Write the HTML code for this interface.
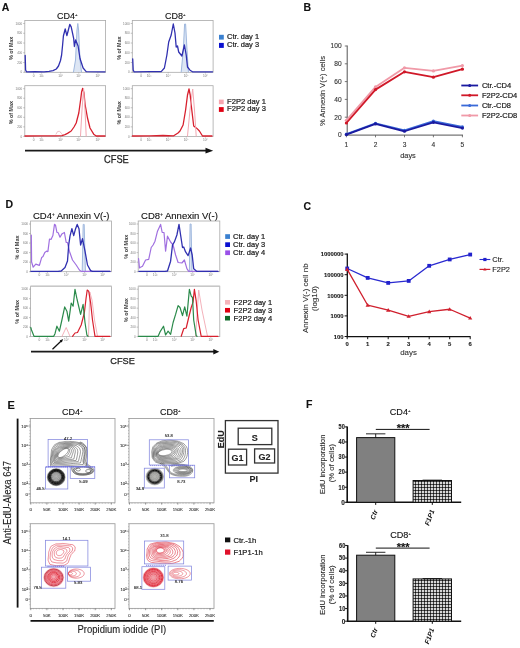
<!DOCTYPE html>
<html><head><meta charset="utf-8"><style>
html,body{margin:0;padding:0;background:#fff;width:520px;height:648px;overflow:hidden}
svg{display:block;will-change:transform}
svg text{font-family:"Liberation Sans", sans-serif}
</style></head><body>
<svg width="520" height="648" viewBox="0 0 520 648">
<defs>
<pattern id="chk" width="3" height="3" patternUnits="userSpaceOnUse">
<rect width="3" height="3" fill="#f4f4f4"/>
<polygon points="1.5,0 3,1.5 1.5,3 0,1.5" fill="#111"/>
</pattern>
<radialGradient id="blk" cx="50%" cy="50%" r="50%">
<stop offset="0" stop-color="#d8d8d8"/>
<stop offset="0.35" stop-color="#b0b0b0"/>
<stop offset="0.55" stop-color="#202020"/>
<stop offset="0.8" stop-color="#111"/>
<stop offset="1" stop-color="#bbb"/>
</radialGradient>
<radialGradient id="redb" cx="47%" cy="47%" r="52%">
<stop offset="0" stop-color="#f4a8b0"/>
<stop offset="0.2" stop-color="#ec7682"/>
<stop offset="0.4" stop-color="#e23444"/>
<stop offset="0.7" stop-color="#e0283a"/>
<stop offset="0.85" stop-color="#e65a68"/>
<stop offset="1" stop-color="#fadadd"/>
</radialGradient>
<radialGradient id="blk4" cx="50%" cy="45%" r="52%">
<stop offset="0" stop-color="#b8b8b8"/>
<stop offset="0.5" stop-color="#a0a0a0"/>
<stop offset="0.6" stop-color="#3a3a3a"/>
<stop offset="0.7" stop-color="#0c0c0c"/>
<stop offset="0.85" stop-color="#1a1a1a"/>
<stop offset="0.95" stop-color="#777"/>
<stop offset="1" stop-color="#c8c8c8"/>
</radialGradient>
<radialGradient id="blk8" cx="50%" cy="50%" r="50%">
<stop offset="0" stop-color="#c8c8c0"/>
<stop offset="0.45" stop-color="#a8a8a8"/>
<stop offset="0.55" stop-color="#2a2a2a"/>
<stop offset="0.62" stop-color="#080808"/>
<stop offset="0.78" stop-color="#101010"/>
<stop offset="0.88" stop-color="#707070"/>
<stop offset="1" stop-color="#d0d0d0"/>
</radialGradient>
</defs>
<rect x="0.00" y="0.00" width="520.00" height="648.00" fill="#fff" stroke="none" stroke-width="1" />
<text x="1.80" y="11.20" font-size="10.5" text-anchor="start" font-weight="bold" fill="#111"  stroke="#111" stroke-width="0.12">A</text>
<text x="57.00" y="18.70" font-size="9" text-anchor="start" font-weight="normal" fill="#111"  stroke="#111" stroke-width="0.12">CD4<tspan font-size="4.32" dy="-2.97">+</tspan></text>
<text x="165.00" y="18.70" font-size="9" text-anchor="start" font-weight="normal" fill="#111"  stroke="#111" stroke-width="0.12">CD8<tspan font-size="4.32" dy="-2.97">+</tspan></text>
<rect x="24.80" y="20.50" width="80.80" height="51.80" fill="none" stroke="#a9a9a9" stroke-width="0.8" />
<line x1="23.20" y1="23.50" x2="24.80" y2="23.50" stroke="#999" stroke-width="0.6" />
<text x="22.20" y="24.60" font-size="3" text-anchor="end" font-weight="normal" fill="#777" >1000</text>
<line x1="23.20" y1="33.26" x2="24.80" y2="33.26" stroke="#999" stroke-width="0.6" />
<text x="22.20" y="34.36" font-size="3" text-anchor="end" font-weight="normal" fill="#777" >800</text>
<line x1="23.20" y1="43.02" x2="24.80" y2="43.02" stroke="#999" stroke-width="0.6" />
<text x="22.20" y="44.12" font-size="3" text-anchor="end" font-weight="normal" fill="#777" >600</text>
<line x1="23.20" y1="52.78" x2="24.80" y2="52.78" stroke="#999" stroke-width="0.6" />
<text x="22.20" y="53.88" font-size="3" text-anchor="end" font-weight="normal" fill="#777" >400</text>
<line x1="23.20" y1="62.54" x2="24.80" y2="62.54" stroke="#999" stroke-width="0.6" />
<text x="22.20" y="63.64" font-size="3" text-anchor="end" font-weight="normal" fill="#777" >200</text>
<line x1="23.20" y1="72.30" x2="24.80" y2="72.30" stroke="#999" stroke-width="0.6" />
<text x="22.20" y="73.40" font-size="3" text-anchor="end" font-weight="normal" fill="#777" >0</text>
<line x1="33.53" y1="72.30" x2="33.53" y2="73.60" stroke="#999" stroke-width="0.5" />
<text x="33.53" y="76.90" font-size="3.2" text-anchor="middle" font-weight="normal" fill="#777" >0</text>
<line x1="41.61" y1="72.30" x2="41.61" y2="73.60" stroke="#999" stroke-width="0.5" />
<text x="41.61" y="76.90" font-size="3.2" text-anchor="middle" font-weight="normal" fill="#777" >10³</text>
<line x1="60.68" y1="72.30" x2="60.68" y2="73.60" stroke="#999" stroke-width="0.5" />
<text x="60.68" y="76.90" font-size="3.2" text-anchor="middle" font-weight="normal" fill="#777" >10⁴</text>
<line x1="78.77" y1="72.30" x2="78.77" y2="73.60" stroke="#999" stroke-width="0.5" />
<text x="78.77" y="76.90" font-size="3.2" text-anchor="middle" font-weight="normal" fill="#777" >10⁵</text>
<line x1="97.92" y1="72.30" x2="97.92" y2="73.60" stroke="#999" stroke-width="0.5" />
<text x="97.92" y="76.90" font-size="3.2" text-anchor="middle" font-weight="normal" fill="#777" >10⁶</text>
<rect x="24.80" y="85.70" width="80.80" height="50.70" fill="none" stroke="#a9a9a9" stroke-width="0.8" />
<line x1="23.20" y1="88.70" x2="24.80" y2="88.70" stroke="#999" stroke-width="0.6" />
<text x="22.20" y="89.80" font-size="3" text-anchor="end" font-weight="normal" fill="#777" >1000</text>
<line x1="23.20" y1="98.24" x2="24.80" y2="98.24" stroke="#999" stroke-width="0.6" />
<text x="22.20" y="99.34" font-size="3" text-anchor="end" font-weight="normal" fill="#777" >800</text>
<line x1="23.20" y1="107.78" x2="24.80" y2="107.78" stroke="#999" stroke-width="0.6" />
<text x="22.20" y="108.88" font-size="3" text-anchor="end" font-weight="normal" fill="#777" >600</text>
<line x1="23.20" y1="117.32" x2="24.80" y2="117.32" stroke="#999" stroke-width="0.6" />
<text x="22.20" y="118.42" font-size="3" text-anchor="end" font-weight="normal" fill="#777" >400</text>
<line x1="23.20" y1="126.86" x2="24.80" y2="126.86" stroke="#999" stroke-width="0.6" />
<text x="22.20" y="127.96" font-size="3" text-anchor="end" font-weight="normal" fill="#777" >200</text>
<line x1="23.20" y1="136.40" x2="24.80" y2="136.40" stroke="#999" stroke-width="0.6" />
<text x="22.20" y="137.50" font-size="3" text-anchor="end" font-weight="normal" fill="#777" >0</text>
<line x1="33.53" y1="136.40" x2="33.53" y2="137.70" stroke="#999" stroke-width="0.5" />
<text x="33.53" y="141.00" font-size="3.2" text-anchor="middle" font-weight="normal" fill="#777" >0</text>
<line x1="41.61" y1="136.40" x2="41.61" y2="137.70" stroke="#999" stroke-width="0.5" />
<text x="41.61" y="141.00" font-size="3.2" text-anchor="middle" font-weight="normal" fill="#777" >10³</text>
<line x1="60.68" y1="136.40" x2="60.68" y2="137.70" stroke="#999" stroke-width="0.5" />
<text x="60.68" y="141.00" font-size="3.2" text-anchor="middle" font-weight="normal" fill="#777" >10⁴</text>
<line x1="78.77" y1="136.40" x2="78.77" y2="137.70" stroke="#999" stroke-width="0.5" />
<text x="78.77" y="141.00" font-size="3.2" text-anchor="middle" font-weight="normal" fill="#777" >10⁵</text>
<line x1="97.92" y1="136.40" x2="97.92" y2="137.70" stroke="#999" stroke-width="0.5" />
<text x="97.92" y="141.00" font-size="3.2" text-anchor="middle" font-weight="normal" fill="#777" >10⁶</text>
<rect x="132.30" y="20.50" width="80.80" height="51.80" fill="none" stroke="#a9a9a9" stroke-width="0.8" />
<line x1="130.70" y1="23.50" x2="132.30" y2="23.50" stroke="#999" stroke-width="0.6" />
<text x="129.70" y="24.60" font-size="3" text-anchor="end" font-weight="normal" fill="#777" >1000</text>
<line x1="130.70" y1="33.26" x2="132.30" y2="33.26" stroke="#999" stroke-width="0.6" />
<text x="129.70" y="34.36" font-size="3" text-anchor="end" font-weight="normal" fill="#777" >800</text>
<line x1="130.70" y1="43.02" x2="132.30" y2="43.02" stroke="#999" stroke-width="0.6" />
<text x="129.70" y="44.12" font-size="3" text-anchor="end" font-weight="normal" fill="#777" >600</text>
<line x1="130.70" y1="52.78" x2="132.30" y2="52.78" stroke="#999" stroke-width="0.6" />
<text x="129.70" y="53.88" font-size="3" text-anchor="end" font-weight="normal" fill="#777" >400</text>
<line x1="130.70" y1="62.54" x2="132.30" y2="62.54" stroke="#999" stroke-width="0.6" />
<text x="129.70" y="63.64" font-size="3" text-anchor="end" font-weight="normal" fill="#777" >200</text>
<line x1="130.70" y1="72.30" x2="132.30" y2="72.30" stroke="#999" stroke-width="0.6" />
<text x="129.70" y="73.40" font-size="3" text-anchor="end" font-weight="normal" fill="#777" >0</text>
<line x1="141.03" y1="72.30" x2="141.03" y2="73.60" stroke="#999" stroke-width="0.5" />
<text x="141.03" y="76.90" font-size="3.2" text-anchor="middle" font-weight="normal" fill="#777" >0</text>
<line x1="149.11" y1="72.30" x2="149.11" y2="73.60" stroke="#999" stroke-width="0.5" />
<text x="149.11" y="76.90" font-size="3.2" text-anchor="middle" font-weight="normal" fill="#777" >10³</text>
<line x1="168.18" y1="72.30" x2="168.18" y2="73.60" stroke="#999" stroke-width="0.5" />
<text x="168.18" y="76.90" font-size="3.2" text-anchor="middle" font-weight="normal" fill="#777" >10⁴</text>
<line x1="186.27" y1="72.30" x2="186.27" y2="73.60" stroke="#999" stroke-width="0.5" />
<text x="186.27" y="76.90" font-size="3.2" text-anchor="middle" font-weight="normal" fill="#777" >10⁵</text>
<line x1="205.42" y1="72.30" x2="205.42" y2="73.60" stroke="#999" stroke-width="0.5" />
<text x="205.42" y="76.90" font-size="3.2" text-anchor="middle" font-weight="normal" fill="#777" >10⁶</text>
<rect x="132.30" y="85.70" width="80.80" height="50.70" fill="none" stroke="#a9a9a9" stroke-width="0.8" />
<line x1="130.70" y1="88.70" x2="132.30" y2="88.70" stroke="#999" stroke-width="0.6" />
<text x="129.70" y="89.80" font-size="3" text-anchor="end" font-weight="normal" fill="#777" >1000</text>
<line x1="130.70" y1="98.24" x2="132.30" y2="98.24" stroke="#999" stroke-width="0.6" />
<text x="129.70" y="99.34" font-size="3" text-anchor="end" font-weight="normal" fill="#777" >800</text>
<line x1="130.70" y1="107.78" x2="132.30" y2="107.78" stroke="#999" stroke-width="0.6" />
<text x="129.70" y="108.88" font-size="3" text-anchor="end" font-weight="normal" fill="#777" >600</text>
<line x1="130.70" y1="117.32" x2="132.30" y2="117.32" stroke="#999" stroke-width="0.6" />
<text x="129.70" y="118.42" font-size="3" text-anchor="end" font-weight="normal" fill="#777" >400</text>
<line x1="130.70" y1="126.86" x2="132.30" y2="126.86" stroke="#999" stroke-width="0.6" />
<text x="129.70" y="127.96" font-size="3" text-anchor="end" font-weight="normal" fill="#777" >200</text>
<line x1="130.70" y1="136.40" x2="132.30" y2="136.40" stroke="#999" stroke-width="0.6" />
<text x="129.70" y="137.50" font-size="3" text-anchor="end" font-weight="normal" fill="#777" >0</text>
<line x1="141.03" y1="136.40" x2="141.03" y2="137.70" stroke="#999" stroke-width="0.5" />
<text x="141.03" y="141.00" font-size="3.2" text-anchor="middle" font-weight="normal" fill="#777" >0</text>
<line x1="149.11" y1="136.40" x2="149.11" y2="137.70" stroke="#999" stroke-width="0.5" />
<text x="149.11" y="141.00" font-size="3.2" text-anchor="middle" font-weight="normal" fill="#777" >10³</text>
<line x1="168.18" y1="136.40" x2="168.18" y2="137.70" stroke="#999" stroke-width="0.5" />
<text x="168.18" y="141.00" font-size="3.2" text-anchor="middle" font-weight="normal" fill="#777" >10⁴</text>
<line x1="186.27" y1="136.40" x2="186.27" y2="137.70" stroke="#999" stroke-width="0.5" />
<text x="186.27" y="141.00" font-size="3.2" text-anchor="middle" font-weight="normal" fill="#777" >10⁵</text>
<line x1="205.42" y1="136.40" x2="205.42" y2="137.70" stroke="#999" stroke-width="0.5" />
<text x="205.42" y="141.00" font-size="3.2" text-anchor="middle" font-weight="normal" fill="#777" >10⁶</text>
<text x="0" y="0" font-size="6.0" text-anchor="middle" dominant-baseline="central" font-weight="bold" fill="#404040"  textLength="23.3" lengthAdjust="spacingAndGlyphs" transform="translate(10.80,48.30) rotate(-90)">% of Max</text>
<text x="0" y="0" font-size="6.0" text-anchor="middle" dominant-baseline="central" font-weight="bold" fill="#404040"  textLength="23.3" lengthAdjust="spacingAndGlyphs" transform="translate(119.30,48.20) rotate(-90)">% of Max</text>
<text x="0" y="0" font-size="6.0" text-anchor="middle" dominant-baseline="central" font-weight="bold" fill="#404040"  textLength="23.3" lengthAdjust="spacingAndGlyphs" transform="translate(10.90,112.60) rotate(-90)">% of Max</text>
<text x="0" y="0" font-size="6.0" text-anchor="middle" dominant-baseline="central" font-weight="bold" fill="#404040"  textLength="23.3" lengthAdjust="spacingAndGlyphs" transform="translate(119.10,112.80) rotate(-90)">% of Max</text>
<polygon points="73.5,72 75.5,60 77,30 77.8,23.5 78.6,30 80,60 81.5,72" fill="#dde6f4"/>
<polyline points="73.50,72.00 75.50,60.00 77.00,30.00 77.80,23.50 78.60,30.00 80.00,60.00 81.50,72.00" fill="none" stroke="#9fb8de" stroke-width="1.0" stroke-linejoin="round" stroke-linecap="round" opacity="1" />
<polyline points="25.20,55.50 25.60,70.00 26.50,71.80 35.00,71.60 44.00,71.80 49.00,71.40 53.00,70.60 56.30,69.00 58.50,66.00 60.50,60.50 61.60,55.00 62.60,45.00 63.40,36.00 65.20,29.00 66.90,35.60 68.10,31.00 69.80,24.40 71.20,26.90 73.70,38.70 74.40,46.50 75.60,40.00 78.10,46.00 80.00,58.50 83.10,68.00 86.20,71.60 105.00,71.80" fill="none" stroke="#3030b0" stroke-width="1.3" stroke-linejoin="round" stroke-linecap="round" opacity="1" />
<polyline points="56.00,134.20 57.50,131.60 59.50,131.20 61.50,133.50 63.00,135.80" fill="none" stroke="#e8b4bc" stroke-width="0.8" stroke-linejoin="round" stroke-linecap="round" opacity="1" />
<polyline points="25.00,136.00 40.00,135.90 55.00,135.90 62.00,135.60 65.00,134.60 67.50,133.40 71.20,131.00 74.00,127.00 76.20,123.00 78.80,113.00 80.60,100.00 81.60,92.00 82.70,88.30 84.00,93.00 85.00,104.00 87.50,118.00 90.00,128.00 93.70,134.20 96.20,136.00 105.00,136.00" fill="none" stroke="#d8202e" stroke-width="1.3" stroke-linejoin="round" stroke-linecap="round" opacity="1" />
<polyline points="80.50,136.00 82.00,110.00 83.60,88.50 85.00,110.00 86.20,136.00" fill="none" stroke="#f2a8b2" stroke-width="1.0" stroke-linejoin="round" stroke-linecap="round" opacity="1" />
<polygon points="181.2,72 183.3,50 184.6,24 185.6,24 187,50 188.4,72" fill="#dde6f4"/>
<polyline points="181.20,72.00 183.30,50.00 184.60,24.00 185.60,24.00 187.00,50.00 188.40,72.00" fill="none" stroke="#9fb8de" stroke-width="1.0" stroke-linejoin="round" stroke-linecap="round" opacity="1" />
<polyline points="132.70,58.80 133.20,70.00 134.00,71.80 150.00,71.60 161.20,71.60 164.40,68.00 166.90,55.00 168.70,42.00 171.20,35.00 173.30,24.00 175.00,33.00 176.20,47.00 177.50,46.00 178.70,52.00 181.90,56.00 184.40,45.00 186.20,55.00 187.50,67.00 190.00,70.20 192.50,71.80 212.50,71.80" fill="none" stroke="#3030b0" stroke-width="1.3" stroke-linejoin="round" stroke-linecap="round" opacity="1" />
<polyline points="132.50,136.00 150.00,135.80 163.00,135.50 173.70,135.80 178.00,133.00 180.00,131.00 183.10,125.00 185.60,110.00 187.50,95.00 189.00,89.00 190.20,95.00 191.20,105.00 193.70,126.00 196.90,128.40 199.40,131.00 202.50,136.00 212.00,136.00" fill="none" stroke="#d8202e" stroke-width="1.3" stroke-linejoin="round" stroke-linecap="round" opacity="1" />
<polyline points="187.50,136.00 190.00,110.00 192.70,89.00 194.50,110.00 196.20,136.00" fill="none" stroke="#f2a8b2" stroke-width="1.0" stroke-linejoin="round" stroke-linecap="round" opacity="1" />
<rect x="219.00" y="34.80" width="4.80" height="4.80" fill="#3a80d0" stroke="none" stroke-width="1" />
<rect x="219.00" y="42.90" width="4.80" height="5.00" fill="#0a10d0" stroke="none" stroke-width="1" />
<text x="227.10" y="39.30" font-size="7.4" text-anchor="start" font-weight="normal" fill="#222"  textLength="32" lengthAdjust="spacingAndGlyphs" stroke="#222" stroke-width="0.22">Ctr. day 1</text>
<text x="227.10" y="47.30" font-size="7.4" text-anchor="start" font-weight="normal" fill="#222"  textLength="32" lengthAdjust="spacingAndGlyphs" stroke="#222" stroke-width="0.22">Ctr. day 3</text>
<rect x="218.90" y="99.60" width="4.80" height="4.60" fill="#f7a6b0" stroke="none" stroke-width="1" />
<rect x="218.90" y="107.10" width="4.80" height="4.80" fill="#e00012" stroke="none" stroke-width="1" />
<text x="227.10" y="103.70" font-size="7.6" text-anchor="start" font-weight="normal" fill="#222"  stroke="#222" stroke-width="0.22">F2P2 day 1</text>
<text x="227.10" y="111.30" font-size="7.6" text-anchor="start" font-weight="normal" fill="#222"  stroke="#222" stroke-width="0.22">F2P2 day 3</text>
<line x1="25.00" y1="150.70" x2="206.50" y2="150.70" stroke="#1a1a1a" stroke-width="1.7" />
<polygon points="205.5,147.8 213.2,150.7 205.5,153.6" fill="#111"/>
<text x="104.00" y="162.70" font-size="10.2" text-anchor="start" font-weight="normal" fill="#222"  textLength="24.8" lengthAdjust="spacingAndGlyphs" stroke="#222" stroke-width="0.25">CFSE</text>
<text x="303.60" y="11.20" font-size="10.5" text-anchor="start" font-weight="bold" fill="#111"  stroke="#111" stroke-width="0.12">B</text>
<line x1="347.20" y1="45.50" x2="347.20" y2="135.60" stroke="#555" stroke-width="1.0" />
<line x1="346.70" y1="135.10" x2="463.00" y2="135.10" stroke="#555" stroke-width="1.0" />
<line x1="344.80" y1="135.00" x2="347.20" y2="135.00" stroke="#555" stroke-width="0.8" />
<text x="341.60" y="137.30" font-size="6.6" text-anchor="end" font-weight="normal" fill="#333"  stroke="#333" stroke-width="0.12">0</text>
<line x1="344.80" y1="117.20" x2="347.20" y2="117.20" stroke="#555" stroke-width="0.8" />
<text x="341.60" y="119.50" font-size="6.6" text-anchor="end" font-weight="normal" fill="#333"  stroke="#333" stroke-width="0.12">20</text>
<line x1="344.80" y1="99.40" x2="347.20" y2="99.40" stroke="#555" stroke-width="0.8" />
<text x="341.60" y="101.70" font-size="6.6" text-anchor="end" font-weight="normal" fill="#333"  stroke="#333" stroke-width="0.12">40</text>
<line x1="344.80" y1="81.60" x2="347.20" y2="81.60" stroke="#555" stroke-width="0.8" />
<text x="341.60" y="83.90" font-size="6.6" text-anchor="end" font-weight="normal" fill="#333"  stroke="#333" stroke-width="0.12">60</text>
<line x1="344.80" y1="63.80" x2="347.20" y2="63.80" stroke="#555" stroke-width="0.8" />
<text x="341.60" y="66.10" font-size="6.6" text-anchor="end" font-weight="normal" fill="#333"  stroke="#333" stroke-width="0.12">80</text>
<line x1="344.80" y1="46.00" x2="347.20" y2="46.00" stroke="#555" stroke-width="0.8" />
<text x="341.60" y="48.30" font-size="6.6" text-anchor="end" font-weight="normal" fill="#333"  stroke="#333" stroke-width="0.12">100</text>
<line x1="346.40" y1="135.10" x2="346.40" y2="137.30" stroke="#555" stroke-width="0.8" />
<text x="346.40" y="147.00" font-size="6.6" text-anchor="middle" font-weight="normal" fill="#333"  stroke="#333" stroke-width="0.12">1</text>
<line x1="375.50" y1="135.10" x2="375.50" y2="137.30" stroke="#555" stroke-width="0.8" />
<text x="375.50" y="147.00" font-size="6.6" text-anchor="middle" font-weight="normal" fill="#333"  stroke="#333" stroke-width="0.12">2</text>
<line x1="404.50" y1="135.10" x2="404.50" y2="137.30" stroke="#555" stroke-width="0.8" />
<text x="404.50" y="147.00" font-size="6.6" text-anchor="middle" font-weight="normal" fill="#333"  stroke="#333" stroke-width="0.12">3</text>
<line x1="433.40" y1="135.10" x2="433.40" y2="137.30" stroke="#555" stroke-width="0.8" />
<text x="433.40" y="147.00" font-size="6.6" text-anchor="middle" font-weight="normal" fill="#333"  stroke="#333" stroke-width="0.12">4</text>
<line x1="462.40" y1="135.10" x2="462.40" y2="137.30" stroke="#555" stroke-width="0.8" />
<text x="462.40" y="147.00" font-size="6.6" text-anchor="middle" font-weight="normal" fill="#333"  stroke="#333" stroke-width="0.12">5</text>
<text x="408.00" y="158.20" font-size="7.4" text-anchor="middle" font-weight="normal" fill="#333"  stroke="#333" stroke-width="0.12">days</text>
<text x="0" y="0" font-size="7.6" text-anchor="middle" dominant-baseline="central" font-weight="normal" fill="#333"  stroke="#333" stroke-width="0.12" transform="translate(322.60,91.00) rotate(-90)">% Annexin V(+) cells</text>
<polyline points="346.40,120.31 375.50,86.94 404.50,67.80 433.40,70.92 462.40,65.58" fill="none" stroke="#f09aa8" stroke-width="1.8" stroke-linejoin="round" stroke-linecap="round" opacity="1" />
<circle cx="346.40" cy="120.31" r="1.6" fill="#f09aa8"/>
<circle cx="375.50" cy="86.94" r="1.6" fill="#f09aa8"/>
<circle cx="404.50" cy="67.80" r="1.6" fill="#f09aa8"/>
<circle cx="433.40" cy="70.92" r="1.6" fill="#f09aa8"/>
<circle cx="462.40" cy="65.58" r="1.6" fill="#f09aa8"/>
<polyline points="346.40,122.98 375.50,89.61 404.50,71.81 433.40,77.15 462.40,69.14" fill="none" stroke="#d01828" stroke-width="1.8" stroke-linejoin="round" stroke-linecap="round" opacity="1" />
<circle cx="346.40" cy="122.98" r="1.6" fill="#d01828"/>
<circle cx="375.50" cy="89.61" r="1.6" fill="#d01828"/>
<circle cx="404.50" cy="71.81" r="1.6" fill="#d01828"/>
<circle cx="433.40" cy="77.15" r="1.6" fill="#d01828"/>
<circle cx="462.40" cy="69.14" r="1.6" fill="#d01828"/>
<polyline points="346.40,134.11 375.50,123.25 404.50,130.37 433.40,121.20 462.40,126.81" fill="none" stroke="#3a6ad8" stroke-width="1.8" stroke-linejoin="round" stroke-linecap="round" opacity="1" />
<circle cx="346.40" cy="134.11" r="1.6" fill="#3a6ad8"/>
<circle cx="375.50" cy="123.25" r="1.6" fill="#3a6ad8"/>
<circle cx="404.50" cy="130.37" r="1.6" fill="#3a6ad8"/>
<circle cx="433.40" cy="121.20" r="1.6" fill="#3a6ad8"/>
<circle cx="462.40" cy="126.81" r="1.6" fill="#3a6ad8"/>
<polyline points="346.40,134.56 375.50,123.96 404.50,131.26 433.40,122.36 462.40,128.06" fill="none" stroke="#1a1aa0" stroke-width="1.8" stroke-linejoin="round" stroke-linecap="round" opacity="1" />
<circle cx="346.40" cy="134.56" r="1.6" fill="#1a1aa0"/>
<circle cx="375.50" cy="123.96" r="1.6" fill="#1a1aa0"/>
<circle cx="404.50" cy="131.26" r="1.6" fill="#1a1aa0"/>
<circle cx="433.40" cy="122.36" r="1.6" fill="#1a1aa0"/>
<circle cx="462.40" cy="128.06" r="1.6" fill="#1a1aa0"/>
<line x1="461.30" y1="85.50" x2="478.10" y2="85.50" stroke="#1a1aa0" stroke-width="1.8" />
<circle cx="469.7" cy="85.5" r="1.5" fill="#1a1aa0"/>
<text x="481.90" y="87.75" font-size="7.0" text-anchor="start" font-weight="normal" fill="#222"  textLength="29.4" lengthAdjust="spacingAndGlyphs" stroke="#222" stroke-width="0.2">Ctr.-CD4</text>
<line x1="461.30" y1="95.30" x2="478.10" y2="95.30" stroke="#d01828" stroke-width="1.8" />
<circle cx="469.7" cy="95.3" r="1.5" fill="#d01828"/>
<text x="481.90" y="97.50" font-size="7.0" text-anchor="start" font-weight="normal" fill="#222"  textLength="35.4" lengthAdjust="spacingAndGlyphs" stroke="#222" stroke-width="0.2">F2P2-CD4</text>
<line x1="461.30" y1="105.50" x2="478.10" y2="105.50" stroke="#3a6ad8" stroke-width="1.8" />
<circle cx="469.7" cy="105.5" r="1.5" fill="#3a6ad8"/>
<text x="481.90" y="107.75" font-size="7.0" text-anchor="start" font-weight="normal" fill="#222"  textLength="29.1" lengthAdjust="spacingAndGlyphs" stroke="#222" stroke-width="0.2">Ctr.-CD8</text>
<line x1="461.30" y1="115.50" x2="478.10" y2="115.50" stroke="#f09aa8" stroke-width="1.8" />
<circle cx="469.7" cy="115.5" r="1.5" fill="#f09aa8"/>
<text x="481.90" y="117.75" font-size="7.0" text-anchor="start" font-weight="normal" fill="#222"  textLength="35.4" lengthAdjust="spacingAndGlyphs" stroke="#222" stroke-width="0.2">F2P2-CD8</text>
<text x="303.60" y="210.20" font-size="10.5" text-anchor="start" font-weight="bold" fill="#111"  stroke="#111" stroke-width="0.12">C</text>
<line x1="347.30" y1="253.60" x2="347.30" y2="337.20" stroke="#111" stroke-width="1.3" />
<line x1="346.60" y1="336.60" x2="470.60" y2="336.60" stroke="#111" stroke-width="1.3" />
<line x1="344.60" y1="254.10" x2="347.30" y2="254.10" stroke="#111" stroke-width="1.0" />
<text x="343.60" y="256.30" font-size="5.9" text-anchor="end" font-weight="bold" fill="#222"  stroke="#222" stroke-width="0.12">1000000</text>
<line x1="344.60" y1="274.70" x2="347.30" y2="274.70" stroke="#111" stroke-width="1.0" />
<text x="343.60" y="276.90" font-size="5.9" text-anchor="end" font-weight="bold" fill="#222"  stroke="#222" stroke-width="0.12">100000</text>
<line x1="344.60" y1="295.30" x2="347.30" y2="295.30" stroke="#111" stroke-width="1.0" />
<text x="343.60" y="297.50" font-size="5.9" text-anchor="end" font-weight="bold" fill="#222"  stroke="#222" stroke-width="0.12">10000</text>
<line x1="344.60" y1="315.90" x2="347.30" y2="315.90" stroke="#111" stroke-width="1.0" />
<text x="343.60" y="318.10" font-size="5.9" text-anchor="end" font-weight="bold" fill="#222"  stroke="#222" stroke-width="0.12">1000</text>
<line x1="344.60" y1="336.50" x2="347.30" y2="336.50" stroke="#111" stroke-width="1.0" />
<text x="343.60" y="338.70" font-size="5.9" text-anchor="end" font-weight="bold" fill="#222"  stroke="#222" stroke-width="0.12">100</text>
<line x1="347.20" y1="336.60" x2="347.20" y2="339.20" stroke="#111" stroke-width="1.0" />
<text x="347.20" y="345.60" font-size="5.9" text-anchor="middle" font-weight="bold" fill="#222"  stroke="#222" stroke-width="0.12">0</text>
<line x1="367.70" y1="336.60" x2="367.70" y2="339.20" stroke="#111" stroke-width="1.0" />
<text x="367.70" y="345.60" font-size="5.9" text-anchor="middle" font-weight="bold" fill="#222"  stroke="#222" stroke-width="0.12">1</text>
<line x1="388.20" y1="336.60" x2="388.20" y2="339.20" stroke="#111" stroke-width="1.0" />
<text x="388.20" y="345.60" font-size="5.9" text-anchor="middle" font-weight="bold" fill="#222"  stroke="#222" stroke-width="0.12">2</text>
<line x1="408.70" y1="336.60" x2="408.70" y2="339.20" stroke="#111" stroke-width="1.0" />
<text x="408.70" y="345.60" font-size="5.9" text-anchor="middle" font-weight="bold" fill="#222"  stroke="#222" stroke-width="0.12">3</text>
<line x1="429.20" y1="336.60" x2="429.20" y2="339.20" stroke="#111" stroke-width="1.0" />
<text x="429.20" y="345.60" font-size="5.9" text-anchor="middle" font-weight="bold" fill="#222"  stroke="#222" stroke-width="0.12">4</text>
<line x1="449.70" y1="336.60" x2="449.70" y2="339.20" stroke="#111" stroke-width="1.0" />
<text x="449.70" y="345.60" font-size="5.9" text-anchor="middle" font-weight="bold" fill="#222"  stroke="#222" stroke-width="0.12">5</text>
<line x1="470.20" y1="336.60" x2="470.20" y2="339.20" stroke="#111" stroke-width="1.0" />
<text x="470.20" y="345.60" font-size="5.9" text-anchor="middle" font-weight="bold" fill="#222"  stroke="#222" stroke-width="0.12">6</text>
<text x="408.50" y="355.30" font-size="7.9" text-anchor="middle" font-weight="normal" fill="#333"  stroke="#333" stroke-width="0.1">days</text>
<text x="0" y="0" font-size="8.0" text-anchor="middle" dominant-baseline="central" font-weight="normal" fill="#333"  stroke="#333" stroke-width="0.12" transform="translate(305.80,298.20) rotate(-90)">Annexin V(-) cell nb</text>
<text x="0" y="0" font-size="8.0" text-anchor="middle" dominant-baseline="central" font-weight="normal" fill="#333"  stroke="#333" stroke-width="0.12" transform="translate(314.40,298.60) rotate(-90)">(log10)</text>
<polyline points="347.20,269.44 367.70,305.22 388.20,310.16 408.70,316.36 429.20,311.70 449.70,309.26 470.20,318.12" fill="none" stroke="#d0202e" stroke-width="1.3" stroke-linejoin="round" stroke-linecap="round" opacity="1" />
<polyline points="347.20,268.50 367.70,277.89 388.20,282.90 408.70,280.90 429.20,265.81 449.70,259.45 470.20,254.56" fill="none" stroke="#2a2ad0" stroke-width="1.3" stroke-linejoin="round" stroke-linecap="round" opacity="1" />
<rect x="345.30" y="266.60" width="3.80" height="3.80" fill="#2222cc" stroke="none" stroke-width="1" />
<rect x="365.80" y="275.99" width="3.80" height="3.80" fill="#2222cc" stroke="none" stroke-width="1" />
<rect x="386.30" y="281.00" width="3.80" height="3.80" fill="#2222cc" stroke="none" stroke-width="1" />
<rect x="406.80" y="279.00" width="3.80" height="3.80" fill="#2222cc" stroke="none" stroke-width="1" />
<rect x="427.30" y="263.91" width="3.80" height="3.80" fill="#2222cc" stroke="none" stroke-width="1" />
<rect x="447.80" y="257.55" width="3.80" height="3.80" fill="#2222cc" stroke="none" stroke-width="1" />
<rect x="468.30" y="252.66" width="3.80" height="3.80" fill="#2222cc" stroke="none" stroke-width="1" />
<polygon points="347.20,267.34 349.30,270.94 345.10,270.94" fill="#d0202e"/>
<polygon points="367.70,303.12 369.80,306.72 365.60,306.72" fill="#d0202e"/>
<polygon points="388.20,308.06 390.30,311.66 386.10,311.66" fill="#d0202e"/>
<polygon points="408.70,314.26 410.80,317.86 406.60,317.86" fill="#d0202e"/>
<polygon points="429.20,309.60 431.30,313.20 427.10,313.20" fill="#d0202e"/>
<polygon points="449.70,307.16 451.80,310.76 447.60,310.76" fill="#d0202e"/>
<polygon points="470.20,316.02 472.30,319.62 468.10,319.62" fill="#d0202e"/>
<line x1="479.50" y1="259.50" x2="490.30" y2="259.50" stroke="#2a2ad0" stroke-width="1.1" />
<rect x="483.30" y="257.90" width="3.20" height="3.20" fill="#2222cc" stroke="none" stroke-width="1" />
<text x="492.30" y="261.80" font-size="7.4" text-anchor="start" font-weight="normal" fill="#222"  stroke="#222" stroke-width="0.12">Ctr.</text>
<line x1="479.50" y1="269.40" x2="490.30" y2="269.40" stroke="#d0202e" stroke-width="1.2" />
<polygon points="484.9,267.7 486.6,270.6 483.2,270.6" fill="#d0202e"/>
<text x="492.30" y="272.10" font-size="7.4" text-anchor="start" font-weight="normal" fill="#222"  stroke="#222" stroke-width="0.12">F2P2</text>
<text x="5.40" y="208.20" font-size="10.5" text-anchor="start" font-weight="bold" fill="#111"  stroke="#111" stroke-width="0.12">D</text>
<text x="33.00" y="218.60" font-size="9.2" text-anchor="start" font-weight="normal" fill="#111"  textLength="76.5" lengthAdjust="spacingAndGlyphs" stroke="#111" stroke-width="0.12">CD4<tspan font-size="4.42" dy="-3.04">+</tspan><tspan dy="3.04"> Annexin V(-)</tspan></text>
<text x="141.10" y="218.60" font-size="9.2" text-anchor="start" font-weight="normal" fill="#111"  textLength="76.8" lengthAdjust="spacingAndGlyphs" stroke="#111" stroke-width="0.12">CD8<tspan font-size="4.42" dy="-3.04">+</tspan><tspan dy="3.04"> Annexin V(-)</tspan></text>
<rect x="30.60" y="221.00" width="80.90" height="50.70" fill="none" stroke="#a9a9a9" stroke-width="0.8" />
<line x1="29.00" y1="224.00" x2="30.60" y2="224.00" stroke="#999" stroke-width="0.6" />
<text x="28.00" y="225.10" font-size="3" text-anchor="end" font-weight="normal" fill="#777" >1000</text>
<line x1="29.00" y1="233.54" x2="30.60" y2="233.54" stroke="#999" stroke-width="0.6" />
<text x="28.00" y="234.64" font-size="3" text-anchor="end" font-weight="normal" fill="#777" >800</text>
<line x1="29.00" y1="243.08" x2="30.60" y2="243.08" stroke="#999" stroke-width="0.6" />
<text x="28.00" y="244.18" font-size="3" text-anchor="end" font-weight="normal" fill="#777" >600</text>
<line x1="29.00" y1="252.62" x2="30.60" y2="252.62" stroke="#999" stroke-width="0.6" />
<text x="28.00" y="253.72" font-size="3" text-anchor="end" font-weight="normal" fill="#777" >400</text>
<line x1="29.00" y1="262.16" x2="30.60" y2="262.16" stroke="#999" stroke-width="0.6" />
<text x="28.00" y="263.26" font-size="3" text-anchor="end" font-weight="normal" fill="#777" >200</text>
<line x1="29.00" y1="271.70" x2="30.60" y2="271.70" stroke="#999" stroke-width="0.6" />
<text x="28.00" y="272.80" font-size="3" text-anchor="end" font-weight="normal" fill="#777" >0</text>
<line x1="39.34" y1="271.70" x2="39.34" y2="273.00" stroke="#999" stroke-width="0.5" />
<text x="39.34" y="276.30" font-size="3.2" text-anchor="middle" font-weight="normal" fill="#777" >0</text>
<line x1="47.43" y1="271.70" x2="47.43" y2="273.00" stroke="#999" stroke-width="0.5" />
<text x="47.43" y="276.30" font-size="3.2" text-anchor="middle" font-weight="normal" fill="#777" >10³</text>
<line x1="66.52" y1="271.70" x2="66.52" y2="273.00" stroke="#999" stroke-width="0.5" />
<text x="66.52" y="276.30" font-size="3.2" text-anchor="middle" font-weight="normal" fill="#777" >10⁴</text>
<line x1="84.64" y1="271.70" x2="84.64" y2="273.00" stroke="#999" stroke-width="0.5" />
<text x="84.64" y="276.30" font-size="3.2" text-anchor="middle" font-weight="normal" fill="#777" >10⁵</text>
<line x1="102.60" y1="271.70" x2="102.60" y2="273.00" stroke="#999" stroke-width="0.5" />
<text x="102.60" y="276.30" font-size="3.2" text-anchor="middle" font-weight="normal" fill="#777" >10⁶</text>
<rect x="30.60" y="286.20" width="80.90" height="50.40" fill="none" stroke="#a9a9a9" stroke-width="0.8" />
<line x1="29.00" y1="289.20" x2="30.60" y2="289.20" stroke="#999" stroke-width="0.6" />
<text x="28.00" y="290.30" font-size="3" text-anchor="end" font-weight="normal" fill="#777" >1000</text>
<line x1="29.00" y1="298.68" x2="30.60" y2="298.68" stroke="#999" stroke-width="0.6" />
<text x="28.00" y="299.78" font-size="3" text-anchor="end" font-weight="normal" fill="#777" >800</text>
<line x1="29.00" y1="308.16" x2="30.60" y2="308.16" stroke="#999" stroke-width="0.6" />
<text x="28.00" y="309.26" font-size="3" text-anchor="end" font-weight="normal" fill="#777" >600</text>
<line x1="29.00" y1="317.64" x2="30.60" y2="317.64" stroke="#999" stroke-width="0.6" />
<text x="28.00" y="318.74" font-size="3" text-anchor="end" font-weight="normal" fill="#777" >400</text>
<line x1="29.00" y1="327.12" x2="30.60" y2="327.12" stroke="#999" stroke-width="0.6" />
<text x="28.00" y="328.22" font-size="3" text-anchor="end" font-weight="normal" fill="#777" >200</text>
<line x1="29.00" y1="336.60" x2="30.60" y2="336.60" stroke="#999" stroke-width="0.6" />
<text x="28.00" y="337.70" font-size="3" text-anchor="end" font-weight="normal" fill="#777" >0</text>
<line x1="39.34" y1="336.60" x2="39.34" y2="337.90" stroke="#999" stroke-width="0.5" />
<text x="39.34" y="341.20" font-size="3.2" text-anchor="middle" font-weight="normal" fill="#777" >0</text>
<line x1="47.43" y1="336.60" x2="47.43" y2="337.90" stroke="#999" stroke-width="0.5" />
<text x="47.43" y="341.20" font-size="3.2" text-anchor="middle" font-weight="normal" fill="#777" >10³</text>
<line x1="66.52" y1="336.60" x2="66.52" y2="337.90" stroke="#999" stroke-width="0.5" />
<text x="66.52" y="341.20" font-size="3.2" text-anchor="middle" font-weight="normal" fill="#777" >10⁴</text>
<line x1="84.64" y1="336.60" x2="84.64" y2="337.90" stroke="#999" stroke-width="0.5" />
<text x="84.64" y="341.20" font-size="3.2" text-anchor="middle" font-weight="normal" fill="#777" >10⁵</text>
<line x1="102.60" y1="336.60" x2="102.60" y2="337.90" stroke="#999" stroke-width="0.5" />
<text x="102.60" y="341.20" font-size="3.2" text-anchor="middle" font-weight="normal" fill="#777" >10⁶</text>
<rect x="30.60" y="285.60" width="80.90" height="1.40" fill="#c8c8c8" stroke="none" stroke-width="1" />
<rect x="138.20" y="221.00" width="81.60" height="50.70" fill="none" stroke="#a9a9a9" stroke-width="0.8" />
<line x1="136.60" y1="224.00" x2="138.20" y2="224.00" stroke="#999" stroke-width="0.6" />
<text x="135.60" y="225.10" font-size="3" text-anchor="end" font-weight="normal" fill="#777" >1000</text>
<line x1="136.60" y1="233.54" x2="138.20" y2="233.54" stroke="#999" stroke-width="0.6" />
<text x="135.60" y="234.64" font-size="3" text-anchor="end" font-weight="normal" fill="#777" >800</text>
<line x1="136.60" y1="243.08" x2="138.20" y2="243.08" stroke="#999" stroke-width="0.6" />
<text x="135.60" y="244.18" font-size="3" text-anchor="end" font-weight="normal" fill="#777" >600</text>
<line x1="136.60" y1="252.62" x2="138.20" y2="252.62" stroke="#999" stroke-width="0.6" />
<text x="135.60" y="253.72" font-size="3" text-anchor="end" font-weight="normal" fill="#777" >400</text>
<line x1="136.60" y1="262.16" x2="138.20" y2="262.16" stroke="#999" stroke-width="0.6" />
<text x="135.60" y="263.26" font-size="3" text-anchor="end" font-weight="normal" fill="#777" >200</text>
<line x1="136.60" y1="271.70" x2="138.20" y2="271.70" stroke="#999" stroke-width="0.6" />
<text x="135.60" y="272.80" font-size="3" text-anchor="end" font-weight="normal" fill="#777" >0</text>
<line x1="147.01" y1="271.70" x2="147.01" y2="273.00" stroke="#999" stroke-width="0.5" />
<text x="147.01" y="276.30" font-size="3.2" text-anchor="middle" font-weight="normal" fill="#777" >0</text>
<line x1="155.17" y1="271.70" x2="155.17" y2="273.00" stroke="#999" stroke-width="0.5" />
<text x="155.17" y="276.30" font-size="3.2" text-anchor="middle" font-weight="normal" fill="#777" >10³</text>
<line x1="174.43" y1="271.70" x2="174.43" y2="273.00" stroke="#999" stroke-width="0.5" />
<text x="174.43" y="276.30" font-size="3.2" text-anchor="middle" font-weight="normal" fill="#777" >10⁴</text>
<line x1="192.71" y1="271.70" x2="192.71" y2="273.00" stroke="#999" stroke-width="0.5" />
<text x="192.71" y="276.30" font-size="3.2" text-anchor="middle" font-weight="normal" fill="#777" >10⁵</text>
<line x1="210.82" y1="271.70" x2="210.82" y2="273.00" stroke="#999" stroke-width="0.5" />
<text x="210.82" y="276.30" font-size="3.2" text-anchor="middle" font-weight="normal" fill="#777" >10⁶</text>
<rect x="138.20" y="286.20" width="81.60" height="50.40" fill="none" stroke="#a9a9a9" stroke-width="0.8" />
<line x1="136.60" y1="289.20" x2="138.20" y2="289.20" stroke="#999" stroke-width="0.6" />
<text x="135.60" y="290.30" font-size="3" text-anchor="end" font-weight="normal" fill="#777" >1000</text>
<line x1="136.60" y1="298.68" x2="138.20" y2="298.68" stroke="#999" stroke-width="0.6" />
<text x="135.60" y="299.78" font-size="3" text-anchor="end" font-weight="normal" fill="#777" >800</text>
<line x1="136.60" y1="308.16" x2="138.20" y2="308.16" stroke="#999" stroke-width="0.6" />
<text x="135.60" y="309.26" font-size="3" text-anchor="end" font-weight="normal" fill="#777" >600</text>
<line x1="136.60" y1="317.64" x2="138.20" y2="317.64" stroke="#999" stroke-width="0.6" />
<text x="135.60" y="318.74" font-size="3" text-anchor="end" font-weight="normal" fill="#777" >400</text>
<line x1="136.60" y1="327.12" x2="138.20" y2="327.12" stroke="#999" stroke-width="0.6" />
<text x="135.60" y="328.22" font-size="3" text-anchor="end" font-weight="normal" fill="#777" >200</text>
<line x1="136.60" y1="336.60" x2="138.20" y2="336.60" stroke="#999" stroke-width="0.6" />
<text x="135.60" y="337.70" font-size="3" text-anchor="end" font-weight="normal" fill="#777" >0</text>
<line x1="147.01" y1="336.60" x2="147.01" y2="337.90" stroke="#999" stroke-width="0.5" />
<text x="147.01" y="341.20" font-size="3.2" text-anchor="middle" font-weight="normal" fill="#777" >0</text>
<line x1="155.17" y1="336.60" x2="155.17" y2="337.90" stroke="#999" stroke-width="0.5" />
<text x="155.17" y="341.20" font-size="3.2" text-anchor="middle" font-weight="normal" fill="#777" >10³</text>
<line x1="174.43" y1="336.60" x2="174.43" y2="337.90" stroke="#999" stroke-width="0.5" />
<text x="174.43" y="341.20" font-size="3.2" text-anchor="middle" font-weight="normal" fill="#777" >10⁴</text>
<line x1="192.71" y1="336.60" x2="192.71" y2="337.90" stroke="#999" stroke-width="0.5" />
<text x="192.71" y="341.20" font-size="3.2" text-anchor="middle" font-weight="normal" fill="#777" >10⁵</text>
<line x1="210.82" y1="336.60" x2="210.82" y2="337.90" stroke="#999" stroke-width="0.5" />
<text x="210.82" y="341.20" font-size="3.2" text-anchor="middle" font-weight="normal" fill="#777" >10⁶</text>
<rect x="138.20" y="285.60" width="81.60" height="1.40" fill="#c8c8c8" stroke="none" stroke-width="1" />
<text x="0" y="0" font-size="6.0" text-anchor="middle" dominant-baseline="central" font-weight="bold" fill="#404040"  textLength="24" lengthAdjust="spacingAndGlyphs" transform="translate(17.10,247.40) rotate(-90)">% of Max</text>
<text x="0" y="0" font-size="6.0" text-anchor="middle" dominant-baseline="central" font-weight="bold" fill="#404040"  textLength="24" lengthAdjust="spacingAndGlyphs" transform="translate(126.20,246.70) rotate(-90)">% of Max</text>
<text x="0" y="0" font-size="6.0" text-anchor="middle" dominant-baseline="central" font-weight="bold" fill="#404040"  textLength="24" lengthAdjust="spacingAndGlyphs" transform="translate(17.10,311.80) rotate(-90)">% of Max</text>
<text x="0" y="0" font-size="6.0" text-anchor="middle" dominant-baseline="central" font-weight="bold" fill="#404040"  textLength="24" lengthAdjust="spacingAndGlyphs" transform="translate(126.20,310.20) rotate(-90)">% of Max</text>
<polygon points="82.2,271.5 83.2,224.4 84.2,224.4 85.4,271.5" fill="#dde6f4"/>
<polyline points="82.20,271.50 83.20,224.40 84.20,224.40 85.40,271.50" fill="none" stroke="#9fb8de" stroke-width="1.0" stroke-linejoin="round" stroke-linecap="round" opacity="1" />
<polyline points="31.30,235.00 31.60,262.00 33.20,267.20 35.80,264.10 39.40,265.40 41.70,257.40 43.00,256.50 44.80,252.50 46.60,251.10 47.90,251.60 49.50,239.00 51.00,239.50 52.90,235.50 54.50,224.30 55.50,225.20 56.90,232.30 58.20,232.80 60.00,237.20 61.80,234.10 64.40,232.50 66.20,242.50 67.50,242.50 69.40,251.20 72.50,260.00 76.20,265.00 79.40,270.00 81.20,271.40 110.00,271.40" fill="none" stroke="#a070e0" stroke-width="1.2" stroke-linejoin="round" stroke-linecap="round" opacity="1" />
<polyline points="31.00,271.40 58.00,271.30 61.20,271.00 65.00,267.50 67.50,261.00 68.70,245.00 70.00,236.20 71.90,228.70 73.70,235.60 75.60,228.70 77.20,224.40 79.00,228.70 80.60,245.00 82.50,238.70 85.00,251.20 87.50,265.00 90.60,270.60 92.50,271.40 110.00,271.40" fill="none" stroke="#3030b0" stroke-width="1.3" stroke-linejoin="round" stroke-linecap="round" opacity="1" />
<polyline points="62.00,336.30 66.20,327.50 70.00,336.30" fill="none" stroke="#f2a8b2" stroke-width="0.9" stroke-linejoin="round" stroke-linecap="round" opacity="1" />
<polyline points="88.50,336.30 89.80,292.00 92.00,300.00 94.50,320.00 97.50,336.30" fill="none" stroke="#f2a8b2" stroke-width="0.9" stroke-linejoin="round" stroke-linecap="round" opacity="1" />
<polyline points="72.50,336.30 75.00,333.00 77.50,332.50 81.20,325.00 84.40,312.50 86.00,298.70 87.20,290.00 88.70,291.20 90.60,302.50 92.50,320.00 95.00,336.30 110.00,336.30" fill="none" stroke="#d8202e" stroke-width="1.2" stroke-linejoin="round" stroke-linecap="round" opacity="1" />
<polyline points="30.80,327.50 31.50,330.00 34.00,336.30 53.70,336.30 55.00,333.70 56.90,326.20 59.40,331.20 61.90,320.00 64.70,306.90 66.90,311.20 68.70,321.20 71.20,303.10 73.10,306.20 75.00,289.40 77.20,300.00 80.60,314.40 83.10,304.40 85.00,322.50 86.90,335.00 88.10,336.30" fill="none" stroke="#2a8a4a" stroke-width="1.2" stroke-linejoin="round" stroke-linecap="round" opacity="1" />
<polygon points="189.4,271.4 190.1,224 191.1,224 192,271.4" fill="#dde6f4"/>
<polyline points="189.40,271.40 190.10,224.00 191.10,224.00 192.00,271.40" fill="none" stroke="#9fb8de" stroke-width="1.0" stroke-linejoin="round" stroke-linecap="round" opacity="1" />
<polyline points="138.60,258.70 139.50,268.00 140.00,267.50 142.50,266.20 145.60,260.00 148.70,259.40 151.20,247.50 153.10,245.00 155.00,241.20 157.50,231.20 160.60,224.40 162.20,232.50 164.00,232.50 165.60,251.20 167.50,236.20 170.60,242.00 173.10,245.00 175.60,255.00 178.10,262.50 181.90,263.00 184.40,260.00 186.90,268.70 188.70,271.30 218.00,271.40" fill="none" stroke="#a070e0" stroke-width="1.2" stroke-linejoin="round" stroke-linecap="round" opacity="1" />
<polyline points="139.00,271.40 165.00,271.30 167.50,271.00 170.60,261.20 172.50,245.00 174.40,241.90 176.90,235.00 179.00,224.40 180.60,235.00 182.50,247.50 183.70,247.00 185.60,251.90 188.10,255.60 190.60,248.00 192.20,255.00 193.70,268.70 196.90,271.40 218.00,271.40" fill="none" stroke="#3030b0" stroke-width="1.3" stroke-linejoin="round" stroke-linecap="round" opacity="1" />
<polyline points="195.60,336.30 198.70,290.00 202.00,310.00 207.50,336.30" fill="none" stroke="#f2a8b2" stroke-width="0.9" stroke-linejoin="round" stroke-linecap="round" opacity="1" />
<polyline points="181.20,336.30 183.70,328.70 186.20,328.00 188.70,317.50 191.20,307.50 193.10,301.90 194.40,289.40 196.20,301.20 198.10,320.00 201.20,336.30 218.00,336.30" fill="none" stroke="#d8202e" stroke-width="1.2" stroke-linejoin="round" stroke-linecap="round" opacity="1" />
<polyline points="138.60,336.30 158.10,336.30 160.00,331.90 163.50,326.20 165.60,335.00 168.10,331.20 170.60,334.40 173.10,322.50 175.60,314.40 178.10,305.60 180.00,307.50 182.50,315.60 184.70,306.90 186.90,316.20 189.40,289.40 191.20,296.20 192.50,297.50 193.70,320.00 196.20,335.60 197.00,336.30" fill="none" stroke="#2a8a4a" stroke-width="1.2" stroke-linejoin="round" stroke-linecap="round" opacity="1" />
<rect x="225.20" y="234.20" width="4.80" height="4.70" fill="#3a80d0" stroke="none" stroke-width="1" />
<text x="233.10" y="238.85" font-size="7.5" text-anchor="start" font-weight="normal" fill="#222"  stroke="#222" stroke-width="0.22">Ctr. day 1</text>
<rect x="225.20" y="242.30" width="4.80" height="4.70" fill="#0a10d0" stroke="none" stroke-width="1" />
<text x="233.10" y="246.95" font-size="7.5" text-anchor="start" font-weight="normal" fill="#222"  stroke="#222" stroke-width="0.22">Ctr. day 3</text>
<rect x="225.20" y="250.40" width="4.80" height="4.70" fill="#9a50e8" stroke="none" stroke-width="1" />
<text x="233.10" y="255.05" font-size="7.5" text-anchor="start" font-weight="normal" fill="#222"  stroke="#222" stroke-width="0.22">Ctr. day 4</text>
<rect x="225.00" y="300.00" width="5.00" height="4.60" fill="#f6b4ba" stroke="none" stroke-width="1" />
<text x="233.60" y="304.60" font-size="7.55" text-anchor="start" font-weight="normal" fill="#222"  stroke="#222" stroke-width="0.22">F2P2 day 1</text>
<rect x="225.00" y="307.95" width="5.00" height="4.60" fill="#e00012" stroke="none" stroke-width="1" />
<text x="233.60" y="312.55" font-size="7.55" text-anchor="start" font-weight="normal" fill="#222"  stroke="#222" stroke-width="0.22">F2P2 day 3</text>
<rect x="225.00" y="315.90" width="5.00" height="4.60" fill="#106a2a" stroke="none" stroke-width="1" />
<text x="233.60" y="320.50" font-size="7.55" text-anchor="start" font-weight="normal" fill="#222"  stroke="#222" stroke-width="0.22">F2P2 day 4</text>
<line x1="31.00" y1="351.70" x2="214.00" y2="351.70" stroke="#1a1a1a" stroke-width="1.7" />
<polygon points="213.3,348.9 219.3,351.7 213.3,354.6" fill="#111"/>
<line x1="52.50" y1="349.30" x2="61.40" y2="340.70" stroke="#111" stroke-width="1.25" />
<polygon points="63.1,339.1 59.6,340.4 61.8,342.6" fill="#111"/>
<text x="110.30" y="363.80" font-size="9.9" text-anchor="start" font-weight="normal" fill="#222"  textLength="24.6" lengthAdjust="spacingAndGlyphs" stroke="#222" stroke-width="0.25">CFSE</text>
<text x="7.60" y="408.80" font-size="11" text-anchor="start" font-weight="bold" fill="#111"  stroke="#111" stroke-width="0.12">E</text>
<text x="62.00" y="415.10" font-size="9" text-anchor="start" font-weight="normal" fill="#111"  stroke="#111" stroke-width="0.12">CD4<tspan font-size="4.32" dy="-2.97">+</tspan></text>
<text x="160.00" y="415.10" font-size="9" text-anchor="start" font-weight="normal" fill="#111"  stroke="#111" stroke-width="0.12">CD8<tspan font-size="4.32" dy="-2.97">+</tspan></text>
<line x1="17.60" y1="418.60" x2="17.60" y2="607.60" stroke="#111" stroke-width="1.8" />
<text x="0" y="0" font-size="10.6" text-anchor="middle" dominant-baseline="central" font-weight="normal" fill="#222"  textLength="83.5" lengthAdjust="spacingAndGlyphs" stroke="#222" stroke-width="0.12" transform="translate(7.40,502.75) rotate(-90)">Anti-EdU-Alexa 647</text>
<rect x="30.30" y="418.50" width="84.70" height="84.30" fill="none" stroke="#a0a0a0" stroke-width="0.9" />
<line x1="28.30" y1="426.00" x2="30.30" y2="426.00" stroke="#555" stroke-width="0.6" />
<text x="27.90" y="427.50" font-size="4.3" text-anchor="end" font-weight="normal" fill="#333"  stroke="#333" stroke-width="0.1">10⁵</text>
<line x1="28.30" y1="445.30" x2="30.30" y2="445.30" stroke="#555" stroke-width="0.6" />
<text x="27.90" y="446.80" font-size="4.3" text-anchor="end" font-weight="normal" fill="#333"  stroke="#333" stroke-width="0.1">10⁴</text>
<line x1="28.30" y1="464.50" x2="30.30" y2="464.50" stroke="#555" stroke-width="0.6" />
<text x="27.90" y="466.00" font-size="4.3" text-anchor="end" font-weight="normal" fill="#333"  stroke="#333" stroke-width="0.1">10³</text>
<line x1="28.30" y1="483.80" x2="30.30" y2="483.80" stroke="#555" stroke-width="0.6" />
<text x="27.90" y="485.30" font-size="4.3" text-anchor="end" font-weight="normal" fill="#333"  stroke="#333" stroke-width="0.1">10²</text>
<line x1="28.30" y1="494.00" x2="30.30" y2="494.00" stroke="#555" stroke-width="0.6" />
<text x="27.90" y="495.50" font-size="4.3" text-anchor="end" font-weight="normal" fill="#333"  stroke="#333" stroke-width="0.1">0</text>
<line x1="29.30" y1="418.50" x2="30.30" y2="418.50" stroke="#888" stroke-width="0.4" />
<line x1="29.30" y1="421.50" x2="30.30" y2="421.50" stroke="#888" stroke-width="0.4" />
<line x1="29.30" y1="424.50" x2="30.30" y2="424.50" stroke="#888" stroke-width="0.4" />
<line x1="29.30" y1="427.50" x2="30.30" y2="427.50" stroke="#888" stroke-width="0.4" />
<line x1="29.30" y1="430.50" x2="30.30" y2="430.50" stroke="#888" stroke-width="0.4" />
<line x1="29.30" y1="433.50" x2="30.30" y2="433.50" stroke="#888" stroke-width="0.4" />
<line x1="29.30" y1="436.50" x2="30.30" y2="436.50" stroke="#888" stroke-width="0.4" />
<line x1="29.30" y1="439.50" x2="30.30" y2="439.50" stroke="#888" stroke-width="0.4" />
<line x1="29.30" y1="442.50" x2="30.30" y2="442.50" stroke="#888" stroke-width="0.4" />
<line x1="29.30" y1="445.50" x2="30.30" y2="445.50" stroke="#888" stroke-width="0.4" />
<line x1="29.30" y1="448.50" x2="30.30" y2="448.50" stroke="#888" stroke-width="0.4" />
<line x1="29.30" y1="451.50" x2="30.30" y2="451.50" stroke="#888" stroke-width="0.4" />
<line x1="29.30" y1="454.50" x2="30.30" y2="454.50" stroke="#888" stroke-width="0.4" />
<line x1="29.30" y1="457.50" x2="30.30" y2="457.50" stroke="#888" stroke-width="0.4" />
<line x1="29.30" y1="460.50" x2="30.30" y2="460.50" stroke="#888" stroke-width="0.4" />
<line x1="29.30" y1="463.50" x2="30.30" y2="463.50" stroke="#888" stroke-width="0.4" />
<line x1="29.30" y1="466.50" x2="30.30" y2="466.50" stroke="#888" stroke-width="0.4" />
<line x1="29.30" y1="469.50" x2="30.30" y2="469.50" stroke="#888" stroke-width="0.4" />
<line x1="29.30" y1="472.50" x2="30.30" y2="472.50" stroke="#888" stroke-width="0.4" />
<line x1="29.30" y1="475.50" x2="30.30" y2="475.50" stroke="#888" stroke-width="0.4" />
<line x1="29.30" y1="478.50" x2="30.30" y2="478.50" stroke="#888" stroke-width="0.4" />
<line x1="29.30" y1="481.50" x2="30.30" y2="481.50" stroke="#888" stroke-width="0.4" />
<line x1="29.30" y1="484.50" x2="30.30" y2="484.50" stroke="#888" stroke-width="0.4" />
<line x1="29.30" y1="487.50" x2="30.30" y2="487.50" stroke="#888" stroke-width="0.4" />
<line x1="29.30" y1="490.50" x2="30.30" y2="490.50" stroke="#888" stroke-width="0.4" />
<line x1="29.30" y1="493.50" x2="30.30" y2="493.50" stroke="#888" stroke-width="0.4" />
<line x1="29.30" y1="496.50" x2="30.30" y2="496.50" stroke="#888" stroke-width="0.4" />
<line x1="29.30" y1="499.50" x2="30.30" y2="499.50" stroke="#888" stroke-width="0.4" />
<line x1="30.80" y1="502.80" x2="30.80" y2="504.60" stroke="#555" stroke-width="0.6" />
<text x="30.80" y="511.10" font-size="4.3" text-anchor="middle" font-weight="normal" fill="#333"  stroke="#333" stroke-width="0.1">0</text>
<line x1="46.90" y1="502.80" x2="46.90" y2="504.60" stroke="#555" stroke-width="0.6" />
<text x="46.90" y="511.10" font-size="4.3" text-anchor="middle" font-weight="normal" fill="#333"  stroke="#333" stroke-width="0.1">50K</text>
<line x1="63.00" y1="502.80" x2="63.00" y2="504.60" stroke="#555" stroke-width="0.6" />
<text x="63.00" y="511.10" font-size="4.3" text-anchor="middle" font-weight="normal" fill="#333"  stroke="#333" stroke-width="0.1">100K</text>
<line x1="79.10" y1="502.80" x2="79.10" y2="504.60" stroke="#555" stroke-width="0.6" />
<text x="79.10" y="511.10" font-size="4.3" text-anchor="middle" font-weight="normal" fill="#333"  stroke="#333" stroke-width="0.1">150K</text>
<line x1="95.20" y1="502.80" x2="95.20" y2="504.60" stroke="#555" stroke-width="0.6" />
<text x="95.20" y="511.10" font-size="4.3" text-anchor="middle" font-weight="normal" fill="#333"  stroke="#333" stroke-width="0.1">200K</text>
<line x1="111.30" y1="502.80" x2="111.30" y2="504.60" stroke="#555" stroke-width="0.6" />
<text x="111.30" y="511.10" font-size="4.3" text-anchor="middle" font-weight="normal" fill="#333"  stroke="#333" stroke-width="0.1">250K</text>
<line x1="30.30" y1="502.80" x2="30.30" y2="503.80" stroke="#888" stroke-width="0.4" />
<line x1="33.30" y1="502.80" x2="33.30" y2="503.80" stroke="#888" stroke-width="0.4" />
<line x1="36.30" y1="502.80" x2="36.30" y2="503.80" stroke="#888" stroke-width="0.4" />
<line x1="39.30" y1="502.80" x2="39.30" y2="503.80" stroke="#888" stroke-width="0.4" />
<line x1="42.30" y1="502.80" x2="42.30" y2="503.80" stroke="#888" stroke-width="0.4" />
<line x1="45.30" y1="502.80" x2="45.30" y2="503.80" stroke="#888" stroke-width="0.4" />
<line x1="48.30" y1="502.80" x2="48.30" y2="503.80" stroke="#888" stroke-width="0.4" />
<line x1="51.30" y1="502.80" x2="51.30" y2="503.80" stroke="#888" stroke-width="0.4" />
<line x1="54.30" y1="502.80" x2="54.30" y2="503.80" stroke="#888" stroke-width="0.4" />
<line x1="57.30" y1="502.80" x2="57.30" y2="503.80" stroke="#888" stroke-width="0.4" />
<line x1="60.30" y1="502.80" x2="60.30" y2="503.80" stroke="#888" stroke-width="0.4" />
<line x1="63.30" y1="502.80" x2="63.30" y2="503.80" stroke="#888" stroke-width="0.4" />
<line x1="66.30" y1="502.80" x2="66.30" y2="503.80" stroke="#888" stroke-width="0.4" />
<line x1="69.30" y1="502.80" x2="69.30" y2="503.80" stroke="#888" stroke-width="0.4" />
<line x1="72.30" y1="502.80" x2="72.30" y2="503.80" stroke="#888" stroke-width="0.4" />
<line x1="75.30" y1="502.80" x2="75.30" y2="503.80" stroke="#888" stroke-width="0.4" />
<line x1="78.30" y1="502.80" x2="78.30" y2="503.80" stroke="#888" stroke-width="0.4" />
<line x1="81.30" y1="502.80" x2="81.30" y2="503.80" stroke="#888" stroke-width="0.4" />
<line x1="84.30" y1="502.80" x2="84.30" y2="503.80" stroke="#888" stroke-width="0.4" />
<line x1="87.30" y1="502.80" x2="87.30" y2="503.80" stroke="#888" stroke-width="0.4" />
<line x1="90.30" y1="502.80" x2="90.30" y2="503.80" stroke="#888" stroke-width="0.4" />
<line x1="93.30" y1="502.80" x2="93.30" y2="503.80" stroke="#888" stroke-width="0.4" />
<line x1="96.30" y1="502.80" x2="96.30" y2="503.80" stroke="#888" stroke-width="0.4" />
<line x1="99.30" y1="502.80" x2="99.30" y2="503.80" stroke="#888" stroke-width="0.4" />
<line x1="102.30" y1="502.80" x2="102.30" y2="503.80" stroke="#888" stroke-width="0.4" />
<line x1="105.30" y1="502.80" x2="105.30" y2="503.80" stroke="#888" stroke-width="0.4" />
<line x1="108.30" y1="502.80" x2="108.30" y2="503.80" stroke="#888" stroke-width="0.4" />
<line x1="111.30" y1="502.80" x2="111.30" y2="503.80" stroke="#888" stroke-width="0.4" />
<line x1="114.30" y1="502.80" x2="114.30" y2="503.80" stroke="#888" stroke-width="0.4" />
<rect x="30.30" y="523.70" width="84.70" height="84.70" fill="none" stroke="#a0a0a0" stroke-width="0.9" />
<line x1="28.30" y1="531.20" x2="30.30" y2="531.20" stroke="#555" stroke-width="0.6" />
<text x="27.90" y="532.70" font-size="4.3" text-anchor="end" font-weight="normal" fill="#333"  stroke="#333" stroke-width="0.1">10⁵</text>
<line x1="28.30" y1="550.50" x2="30.30" y2="550.50" stroke="#555" stroke-width="0.6" />
<text x="27.90" y="552.00" font-size="4.3" text-anchor="end" font-weight="normal" fill="#333"  stroke="#333" stroke-width="0.1">10⁴</text>
<line x1="28.30" y1="569.70" x2="30.30" y2="569.70" stroke="#555" stroke-width="0.6" />
<text x="27.90" y="571.20" font-size="4.3" text-anchor="end" font-weight="normal" fill="#333"  stroke="#333" stroke-width="0.1">10³</text>
<line x1="28.30" y1="589.00" x2="30.30" y2="589.00" stroke="#555" stroke-width="0.6" />
<text x="27.90" y="590.50" font-size="4.3" text-anchor="end" font-weight="normal" fill="#333"  stroke="#333" stroke-width="0.1">10²</text>
<line x1="28.30" y1="599.20" x2="30.30" y2="599.20" stroke="#555" stroke-width="0.6" />
<text x="27.90" y="600.70" font-size="4.3" text-anchor="end" font-weight="normal" fill="#333"  stroke="#333" stroke-width="0.1">0</text>
<line x1="29.30" y1="523.70" x2="30.30" y2="523.70" stroke="#888" stroke-width="0.4" />
<line x1="29.30" y1="526.70" x2="30.30" y2="526.70" stroke="#888" stroke-width="0.4" />
<line x1="29.30" y1="529.70" x2="30.30" y2="529.70" stroke="#888" stroke-width="0.4" />
<line x1="29.30" y1="532.70" x2="30.30" y2="532.70" stroke="#888" stroke-width="0.4" />
<line x1="29.30" y1="535.70" x2="30.30" y2="535.70" stroke="#888" stroke-width="0.4" />
<line x1="29.30" y1="538.70" x2="30.30" y2="538.70" stroke="#888" stroke-width="0.4" />
<line x1="29.30" y1="541.70" x2="30.30" y2="541.70" stroke="#888" stroke-width="0.4" />
<line x1="29.30" y1="544.70" x2="30.30" y2="544.70" stroke="#888" stroke-width="0.4" />
<line x1="29.30" y1="547.70" x2="30.30" y2="547.70" stroke="#888" stroke-width="0.4" />
<line x1="29.30" y1="550.70" x2="30.30" y2="550.70" stroke="#888" stroke-width="0.4" />
<line x1="29.30" y1="553.70" x2="30.30" y2="553.70" stroke="#888" stroke-width="0.4" />
<line x1="29.30" y1="556.70" x2="30.30" y2="556.70" stroke="#888" stroke-width="0.4" />
<line x1="29.30" y1="559.70" x2="30.30" y2="559.70" stroke="#888" stroke-width="0.4" />
<line x1="29.30" y1="562.70" x2="30.30" y2="562.70" stroke="#888" stroke-width="0.4" />
<line x1="29.30" y1="565.70" x2="30.30" y2="565.70" stroke="#888" stroke-width="0.4" />
<line x1="29.30" y1="568.70" x2="30.30" y2="568.70" stroke="#888" stroke-width="0.4" />
<line x1="29.30" y1="571.70" x2="30.30" y2="571.70" stroke="#888" stroke-width="0.4" />
<line x1="29.30" y1="574.70" x2="30.30" y2="574.70" stroke="#888" stroke-width="0.4" />
<line x1="29.30" y1="577.70" x2="30.30" y2="577.70" stroke="#888" stroke-width="0.4" />
<line x1="29.30" y1="580.70" x2="30.30" y2="580.70" stroke="#888" stroke-width="0.4" />
<line x1="29.30" y1="583.70" x2="30.30" y2="583.70" stroke="#888" stroke-width="0.4" />
<line x1="29.30" y1="586.70" x2="30.30" y2="586.70" stroke="#888" stroke-width="0.4" />
<line x1="29.30" y1="589.70" x2="30.30" y2="589.70" stroke="#888" stroke-width="0.4" />
<line x1="29.30" y1="592.70" x2="30.30" y2="592.70" stroke="#888" stroke-width="0.4" />
<line x1="29.30" y1="595.70" x2="30.30" y2="595.70" stroke="#888" stroke-width="0.4" />
<line x1="29.30" y1="598.70" x2="30.30" y2="598.70" stroke="#888" stroke-width="0.4" />
<line x1="29.30" y1="601.70" x2="30.30" y2="601.70" stroke="#888" stroke-width="0.4" />
<line x1="29.30" y1="604.70" x2="30.30" y2="604.70" stroke="#888" stroke-width="0.4" />
<line x1="30.80" y1="608.40" x2="30.80" y2="610.20" stroke="#555" stroke-width="0.6" />
<text x="30.80" y="616.70" font-size="4.3" text-anchor="middle" font-weight="normal" fill="#333"  stroke="#333" stroke-width="0.1">0</text>
<line x1="46.90" y1="608.40" x2="46.90" y2="610.20" stroke="#555" stroke-width="0.6" />
<text x="46.90" y="616.70" font-size="4.3" text-anchor="middle" font-weight="normal" fill="#333"  stroke="#333" stroke-width="0.1">50K</text>
<line x1="63.00" y1="608.40" x2="63.00" y2="610.20" stroke="#555" stroke-width="0.6" />
<text x="63.00" y="616.70" font-size="4.3" text-anchor="middle" font-weight="normal" fill="#333"  stroke="#333" stroke-width="0.1">100K</text>
<line x1="79.10" y1="608.40" x2="79.10" y2="610.20" stroke="#555" stroke-width="0.6" />
<text x="79.10" y="616.70" font-size="4.3" text-anchor="middle" font-weight="normal" fill="#333"  stroke="#333" stroke-width="0.1">150K</text>
<line x1="95.20" y1="608.40" x2="95.20" y2="610.20" stroke="#555" stroke-width="0.6" />
<text x="95.20" y="616.70" font-size="4.3" text-anchor="middle" font-weight="normal" fill="#333"  stroke="#333" stroke-width="0.1">200K</text>
<line x1="111.30" y1="608.40" x2="111.30" y2="610.20" stroke="#555" stroke-width="0.6" />
<text x="111.30" y="616.70" font-size="4.3" text-anchor="middle" font-weight="normal" fill="#333"  stroke="#333" stroke-width="0.1">250K</text>
<line x1="30.30" y1="608.40" x2="30.30" y2="609.40" stroke="#888" stroke-width="0.4" />
<line x1="33.30" y1="608.40" x2="33.30" y2="609.40" stroke="#888" stroke-width="0.4" />
<line x1="36.30" y1="608.40" x2="36.30" y2="609.40" stroke="#888" stroke-width="0.4" />
<line x1="39.30" y1="608.40" x2="39.30" y2="609.40" stroke="#888" stroke-width="0.4" />
<line x1="42.30" y1="608.40" x2="42.30" y2="609.40" stroke="#888" stroke-width="0.4" />
<line x1="45.30" y1="608.40" x2="45.30" y2="609.40" stroke="#888" stroke-width="0.4" />
<line x1="48.30" y1="608.40" x2="48.30" y2="609.40" stroke="#888" stroke-width="0.4" />
<line x1="51.30" y1="608.40" x2="51.30" y2="609.40" stroke="#888" stroke-width="0.4" />
<line x1="54.30" y1="608.40" x2="54.30" y2="609.40" stroke="#888" stroke-width="0.4" />
<line x1="57.30" y1="608.40" x2="57.30" y2="609.40" stroke="#888" stroke-width="0.4" />
<line x1="60.30" y1="608.40" x2="60.30" y2="609.40" stroke="#888" stroke-width="0.4" />
<line x1="63.30" y1="608.40" x2="63.30" y2="609.40" stroke="#888" stroke-width="0.4" />
<line x1="66.30" y1="608.40" x2="66.30" y2="609.40" stroke="#888" stroke-width="0.4" />
<line x1="69.30" y1="608.40" x2="69.30" y2="609.40" stroke="#888" stroke-width="0.4" />
<line x1="72.30" y1="608.40" x2="72.30" y2="609.40" stroke="#888" stroke-width="0.4" />
<line x1="75.30" y1="608.40" x2="75.30" y2="609.40" stroke="#888" stroke-width="0.4" />
<line x1="78.30" y1="608.40" x2="78.30" y2="609.40" stroke="#888" stroke-width="0.4" />
<line x1="81.30" y1="608.40" x2="81.30" y2="609.40" stroke="#888" stroke-width="0.4" />
<line x1="84.30" y1="608.40" x2="84.30" y2="609.40" stroke="#888" stroke-width="0.4" />
<line x1="87.30" y1="608.40" x2="87.30" y2="609.40" stroke="#888" stroke-width="0.4" />
<line x1="90.30" y1="608.40" x2="90.30" y2="609.40" stroke="#888" stroke-width="0.4" />
<line x1="93.30" y1="608.40" x2="93.30" y2="609.40" stroke="#888" stroke-width="0.4" />
<line x1="96.30" y1="608.40" x2="96.30" y2="609.40" stroke="#888" stroke-width="0.4" />
<line x1="99.30" y1="608.40" x2="99.30" y2="609.40" stroke="#888" stroke-width="0.4" />
<line x1="102.30" y1="608.40" x2="102.30" y2="609.40" stroke="#888" stroke-width="0.4" />
<line x1="105.30" y1="608.40" x2="105.30" y2="609.40" stroke="#888" stroke-width="0.4" />
<line x1="108.30" y1="608.40" x2="108.30" y2="609.40" stroke="#888" stroke-width="0.4" />
<line x1="111.30" y1="608.40" x2="111.30" y2="609.40" stroke="#888" stroke-width="0.4" />
<line x1="114.30" y1="608.40" x2="114.30" y2="609.40" stroke="#888" stroke-width="0.4" />
<rect x="129.00" y="418.50" width="85.00" height="84.30" fill="none" stroke="#a0a0a0" stroke-width="0.9" />
<line x1="127.00" y1="426.00" x2="129.00" y2="426.00" stroke="#555" stroke-width="0.6" />
<text x="126.60" y="427.50" font-size="4.3" text-anchor="end" font-weight="normal" fill="#333"  stroke="#333" stroke-width="0.1">10⁵</text>
<line x1="127.00" y1="445.30" x2="129.00" y2="445.30" stroke="#555" stroke-width="0.6" />
<text x="126.60" y="446.80" font-size="4.3" text-anchor="end" font-weight="normal" fill="#333"  stroke="#333" stroke-width="0.1">10⁴</text>
<line x1="127.00" y1="464.50" x2="129.00" y2="464.50" stroke="#555" stroke-width="0.6" />
<text x="126.60" y="466.00" font-size="4.3" text-anchor="end" font-weight="normal" fill="#333"  stroke="#333" stroke-width="0.1">10³</text>
<line x1="127.00" y1="483.80" x2="129.00" y2="483.80" stroke="#555" stroke-width="0.6" />
<text x="126.60" y="485.30" font-size="4.3" text-anchor="end" font-weight="normal" fill="#333"  stroke="#333" stroke-width="0.1">10²</text>
<line x1="127.00" y1="494.00" x2="129.00" y2="494.00" stroke="#555" stroke-width="0.6" />
<text x="126.60" y="495.50" font-size="4.3" text-anchor="end" font-weight="normal" fill="#333"  stroke="#333" stroke-width="0.1">0</text>
<line x1="128.00" y1="418.50" x2="129.00" y2="418.50" stroke="#888" stroke-width="0.4" />
<line x1="128.00" y1="421.50" x2="129.00" y2="421.50" stroke="#888" stroke-width="0.4" />
<line x1="128.00" y1="424.50" x2="129.00" y2="424.50" stroke="#888" stroke-width="0.4" />
<line x1="128.00" y1="427.50" x2="129.00" y2="427.50" stroke="#888" stroke-width="0.4" />
<line x1="128.00" y1="430.50" x2="129.00" y2="430.50" stroke="#888" stroke-width="0.4" />
<line x1="128.00" y1="433.50" x2="129.00" y2="433.50" stroke="#888" stroke-width="0.4" />
<line x1="128.00" y1="436.50" x2="129.00" y2="436.50" stroke="#888" stroke-width="0.4" />
<line x1="128.00" y1="439.50" x2="129.00" y2="439.50" stroke="#888" stroke-width="0.4" />
<line x1="128.00" y1="442.50" x2="129.00" y2="442.50" stroke="#888" stroke-width="0.4" />
<line x1="128.00" y1="445.50" x2="129.00" y2="445.50" stroke="#888" stroke-width="0.4" />
<line x1="128.00" y1="448.50" x2="129.00" y2="448.50" stroke="#888" stroke-width="0.4" />
<line x1="128.00" y1="451.50" x2="129.00" y2="451.50" stroke="#888" stroke-width="0.4" />
<line x1="128.00" y1="454.50" x2="129.00" y2="454.50" stroke="#888" stroke-width="0.4" />
<line x1="128.00" y1="457.50" x2="129.00" y2="457.50" stroke="#888" stroke-width="0.4" />
<line x1="128.00" y1="460.50" x2="129.00" y2="460.50" stroke="#888" stroke-width="0.4" />
<line x1="128.00" y1="463.50" x2="129.00" y2="463.50" stroke="#888" stroke-width="0.4" />
<line x1="128.00" y1="466.50" x2="129.00" y2="466.50" stroke="#888" stroke-width="0.4" />
<line x1="128.00" y1="469.50" x2="129.00" y2="469.50" stroke="#888" stroke-width="0.4" />
<line x1="128.00" y1="472.50" x2="129.00" y2="472.50" stroke="#888" stroke-width="0.4" />
<line x1="128.00" y1="475.50" x2="129.00" y2="475.50" stroke="#888" stroke-width="0.4" />
<line x1="128.00" y1="478.50" x2="129.00" y2="478.50" stroke="#888" stroke-width="0.4" />
<line x1="128.00" y1="481.50" x2="129.00" y2="481.50" stroke="#888" stroke-width="0.4" />
<line x1="128.00" y1="484.50" x2="129.00" y2="484.50" stroke="#888" stroke-width="0.4" />
<line x1="128.00" y1="487.50" x2="129.00" y2="487.50" stroke="#888" stroke-width="0.4" />
<line x1="128.00" y1="490.50" x2="129.00" y2="490.50" stroke="#888" stroke-width="0.4" />
<line x1="128.00" y1="493.50" x2="129.00" y2="493.50" stroke="#888" stroke-width="0.4" />
<line x1="128.00" y1="496.50" x2="129.00" y2="496.50" stroke="#888" stroke-width="0.4" />
<line x1="128.00" y1="499.50" x2="129.00" y2="499.50" stroke="#888" stroke-width="0.4" />
<line x1="129.50" y1="502.80" x2="129.50" y2="504.60" stroke="#555" stroke-width="0.6" />
<text x="129.50" y="511.10" font-size="4.3" text-anchor="middle" font-weight="normal" fill="#333"  stroke="#333" stroke-width="0.1">0</text>
<line x1="145.60" y1="502.80" x2="145.60" y2="504.60" stroke="#555" stroke-width="0.6" />
<text x="145.60" y="511.10" font-size="4.3" text-anchor="middle" font-weight="normal" fill="#333"  stroke="#333" stroke-width="0.1">50K</text>
<line x1="161.70" y1="502.80" x2="161.70" y2="504.60" stroke="#555" stroke-width="0.6" />
<text x="161.70" y="511.10" font-size="4.3" text-anchor="middle" font-weight="normal" fill="#333"  stroke="#333" stroke-width="0.1">100K</text>
<line x1="177.80" y1="502.80" x2="177.80" y2="504.60" stroke="#555" stroke-width="0.6" />
<text x="177.80" y="511.10" font-size="4.3" text-anchor="middle" font-weight="normal" fill="#333"  stroke="#333" stroke-width="0.1">150K</text>
<line x1="193.90" y1="502.80" x2="193.90" y2="504.60" stroke="#555" stroke-width="0.6" />
<text x="193.90" y="511.10" font-size="4.3" text-anchor="middle" font-weight="normal" fill="#333"  stroke="#333" stroke-width="0.1">200K</text>
<line x1="210.00" y1="502.80" x2="210.00" y2="504.60" stroke="#555" stroke-width="0.6" />
<text x="210.00" y="511.10" font-size="4.3" text-anchor="middle" font-weight="normal" fill="#333"  stroke="#333" stroke-width="0.1">250K</text>
<line x1="129.00" y1="502.80" x2="129.00" y2="503.80" stroke="#888" stroke-width="0.4" />
<line x1="132.00" y1="502.80" x2="132.00" y2="503.80" stroke="#888" stroke-width="0.4" />
<line x1="135.00" y1="502.80" x2="135.00" y2="503.80" stroke="#888" stroke-width="0.4" />
<line x1="138.00" y1="502.80" x2="138.00" y2="503.80" stroke="#888" stroke-width="0.4" />
<line x1="141.00" y1="502.80" x2="141.00" y2="503.80" stroke="#888" stroke-width="0.4" />
<line x1="144.00" y1="502.80" x2="144.00" y2="503.80" stroke="#888" stroke-width="0.4" />
<line x1="147.00" y1="502.80" x2="147.00" y2="503.80" stroke="#888" stroke-width="0.4" />
<line x1="150.00" y1="502.80" x2="150.00" y2="503.80" stroke="#888" stroke-width="0.4" />
<line x1="153.00" y1="502.80" x2="153.00" y2="503.80" stroke="#888" stroke-width="0.4" />
<line x1="156.00" y1="502.80" x2="156.00" y2="503.80" stroke="#888" stroke-width="0.4" />
<line x1="159.00" y1="502.80" x2="159.00" y2="503.80" stroke="#888" stroke-width="0.4" />
<line x1="162.00" y1="502.80" x2="162.00" y2="503.80" stroke="#888" stroke-width="0.4" />
<line x1="165.00" y1="502.80" x2="165.00" y2="503.80" stroke="#888" stroke-width="0.4" />
<line x1="168.00" y1="502.80" x2="168.00" y2="503.80" stroke="#888" stroke-width="0.4" />
<line x1="171.00" y1="502.80" x2="171.00" y2="503.80" stroke="#888" stroke-width="0.4" />
<line x1="174.00" y1="502.80" x2="174.00" y2="503.80" stroke="#888" stroke-width="0.4" />
<line x1="177.00" y1="502.80" x2="177.00" y2="503.80" stroke="#888" stroke-width="0.4" />
<line x1="180.00" y1="502.80" x2="180.00" y2="503.80" stroke="#888" stroke-width="0.4" />
<line x1="183.00" y1="502.80" x2="183.00" y2="503.80" stroke="#888" stroke-width="0.4" />
<line x1="186.00" y1="502.80" x2="186.00" y2="503.80" stroke="#888" stroke-width="0.4" />
<line x1="189.00" y1="502.80" x2="189.00" y2="503.80" stroke="#888" stroke-width="0.4" />
<line x1="192.00" y1="502.80" x2="192.00" y2="503.80" stroke="#888" stroke-width="0.4" />
<line x1="195.00" y1="502.80" x2="195.00" y2="503.80" stroke="#888" stroke-width="0.4" />
<line x1="198.00" y1="502.80" x2="198.00" y2="503.80" stroke="#888" stroke-width="0.4" />
<line x1="201.00" y1="502.80" x2="201.00" y2="503.80" stroke="#888" stroke-width="0.4" />
<line x1="204.00" y1="502.80" x2="204.00" y2="503.80" stroke="#888" stroke-width="0.4" />
<line x1="207.00" y1="502.80" x2="207.00" y2="503.80" stroke="#888" stroke-width="0.4" />
<line x1="210.00" y1="502.80" x2="210.00" y2="503.80" stroke="#888" stroke-width="0.4" />
<line x1="213.00" y1="502.80" x2="213.00" y2="503.80" stroke="#888" stroke-width="0.4" />
<rect x="129.00" y="523.70" width="85.00" height="84.70" fill="none" stroke="#a0a0a0" stroke-width="0.9" />
<line x1="127.00" y1="531.20" x2="129.00" y2="531.20" stroke="#555" stroke-width="0.6" />
<text x="126.60" y="532.70" font-size="4.3" text-anchor="end" font-weight="normal" fill="#333"  stroke="#333" stroke-width="0.1">10⁵</text>
<line x1="127.00" y1="550.50" x2="129.00" y2="550.50" stroke="#555" stroke-width="0.6" />
<text x="126.60" y="552.00" font-size="4.3" text-anchor="end" font-weight="normal" fill="#333"  stroke="#333" stroke-width="0.1">10⁴</text>
<line x1="127.00" y1="569.70" x2="129.00" y2="569.70" stroke="#555" stroke-width="0.6" />
<text x="126.60" y="571.20" font-size="4.3" text-anchor="end" font-weight="normal" fill="#333"  stroke="#333" stroke-width="0.1">10³</text>
<line x1="127.00" y1="589.00" x2="129.00" y2="589.00" stroke="#555" stroke-width="0.6" />
<text x="126.60" y="590.50" font-size="4.3" text-anchor="end" font-weight="normal" fill="#333"  stroke="#333" stroke-width="0.1">10²</text>
<line x1="127.00" y1="599.20" x2="129.00" y2="599.20" stroke="#555" stroke-width="0.6" />
<text x="126.60" y="600.70" font-size="4.3" text-anchor="end" font-weight="normal" fill="#333"  stroke="#333" stroke-width="0.1">0</text>
<line x1="128.00" y1="523.70" x2="129.00" y2="523.70" stroke="#888" stroke-width="0.4" />
<line x1="128.00" y1="526.70" x2="129.00" y2="526.70" stroke="#888" stroke-width="0.4" />
<line x1="128.00" y1="529.70" x2="129.00" y2="529.70" stroke="#888" stroke-width="0.4" />
<line x1="128.00" y1="532.70" x2="129.00" y2="532.70" stroke="#888" stroke-width="0.4" />
<line x1="128.00" y1="535.70" x2="129.00" y2="535.70" stroke="#888" stroke-width="0.4" />
<line x1="128.00" y1="538.70" x2="129.00" y2="538.70" stroke="#888" stroke-width="0.4" />
<line x1="128.00" y1="541.70" x2="129.00" y2="541.70" stroke="#888" stroke-width="0.4" />
<line x1="128.00" y1="544.70" x2="129.00" y2="544.70" stroke="#888" stroke-width="0.4" />
<line x1="128.00" y1="547.70" x2="129.00" y2="547.70" stroke="#888" stroke-width="0.4" />
<line x1="128.00" y1="550.70" x2="129.00" y2="550.70" stroke="#888" stroke-width="0.4" />
<line x1="128.00" y1="553.70" x2="129.00" y2="553.70" stroke="#888" stroke-width="0.4" />
<line x1="128.00" y1="556.70" x2="129.00" y2="556.70" stroke="#888" stroke-width="0.4" />
<line x1="128.00" y1="559.70" x2="129.00" y2="559.70" stroke="#888" stroke-width="0.4" />
<line x1="128.00" y1="562.70" x2="129.00" y2="562.70" stroke="#888" stroke-width="0.4" />
<line x1="128.00" y1="565.70" x2="129.00" y2="565.70" stroke="#888" stroke-width="0.4" />
<line x1="128.00" y1="568.70" x2="129.00" y2="568.70" stroke="#888" stroke-width="0.4" />
<line x1="128.00" y1="571.70" x2="129.00" y2="571.70" stroke="#888" stroke-width="0.4" />
<line x1="128.00" y1="574.70" x2="129.00" y2="574.70" stroke="#888" stroke-width="0.4" />
<line x1="128.00" y1="577.70" x2="129.00" y2="577.70" stroke="#888" stroke-width="0.4" />
<line x1="128.00" y1="580.70" x2="129.00" y2="580.70" stroke="#888" stroke-width="0.4" />
<line x1="128.00" y1="583.70" x2="129.00" y2="583.70" stroke="#888" stroke-width="0.4" />
<line x1="128.00" y1="586.70" x2="129.00" y2="586.70" stroke="#888" stroke-width="0.4" />
<line x1="128.00" y1="589.70" x2="129.00" y2="589.70" stroke="#888" stroke-width="0.4" />
<line x1="128.00" y1="592.70" x2="129.00" y2="592.70" stroke="#888" stroke-width="0.4" />
<line x1="128.00" y1="595.70" x2="129.00" y2="595.70" stroke="#888" stroke-width="0.4" />
<line x1="128.00" y1="598.70" x2="129.00" y2="598.70" stroke="#888" stroke-width="0.4" />
<line x1="128.00" y1="601.70" x2="129.00" y2="601.70" stroke="#888" stroke-width="0.4" />
<line x1="128.00" y1="604.70" x2="129.00" y2="604.70" stroke="#888" stroke-width="0.4" />
<line x1="129.50" y1="608.40" x2="129.50" y2="610.20" stroke="#555" stroke-width="0.6" />
<text x="129.50" y="616.70" font-size="4.3" text-anchor="middle" font-weight="normal" fill="#333"  stroke="#333" stroke-width="0.1">0</text>
<line x1="145.60" y1="608.40" x2="145.60" y2="610.20" stroke="#555" stroke-width="0.6" />
<text x="145.60" y="616.70" font-size="4.3" text-anchor="middle" font-weight="normal" fill="#333"  stroke="#333" stroke-width="0.1">50K</text>
<line x1="161.70" y1="608.40" x2="161.70" y2="610.20" stroke="#555" stroke-width="0.6" />
<text x="161.70" y="616.70" font-size="4.3" text-anchor="middle" font-weight="normal" fill="#333"  stroke="#333" stroke-width="0.1">100K</text>
<line x1="177.80" y1="608.40" x2="177.80" y2="610.20" stroke="#555" stroke-width="0.6" />
<text x="177.80" y="616.70" font-size="4.3" text-anchor="middle" font-weight="normal" fill="#333"  stroke="#333" stroke-width="0.1">150K</text>
<line x1="193.90" y1="608.40" x2="193.90" y2="610.20" stroke="#555" stroke-width="0.6" />
<text x="193.90" y="616.70" font-size="4.3" text-anchor="middle" font-weight="normal" fill="#333"  stroke="#333" stroke-width="0.1">200K</text>
<line x1="210.00" y1="608.40" x2="210.00" y2="610.20" stroke="#555" stroke-width="0.6" />
<text x="210.00" y="616.70" font-size="4.3" text-anchor="middle" font-weight="normal" fill="#333"  stroke="#333" stroke-width="0.1">250K</text>
<line x1="129.00" y1="608.40" x2="129.00" y2="609.40" stroke="#888" stroke-width="0.4" />
<line x1="132.00" y1="608.40" x2="132.00" y2="609.40" stroke="#888" stroke-width="0.4" />
<line x1="135.00" y1="608.40" x2="135.00" y2="609.40" stroke="#888" stroke-width="0.4" />
<line x1="138.00" y1="608.40" x2="138.00" y2="609.40" stroke="#888" stroke-width="0.4" />
<line x1="141.00" y1="608.40" x2="141.00" y2="609.40" stroke="#888" stroke-width="0.4" />
<line x1="144.00" y1="608.40" x2="144.00" y2="609.40" stroke="#888" stroke-width="0.4" />
<line x1="147.00" y1="608.40" x2="147.00" y2="609.40" stroke="#888" stroke-width="0.4" />
<line x1="150.00" y1="608.40" x2="150.00" y2="609.40" stroke="#888" stroke-width="0.4" />
<line x1="153.00" y1="608.40" x2="153.00" y2="609.40" stroke="#888" stroke-width="0.4" />
<line x1="156.00" y1="608.40" x2="156.00" y2="609.40" stroke="#888" stroke-width="0.4" />
<line x1="159.00" y1="608.40" x2="159.00" y2="609.40" stroke="#888" stroke-width="0.4" />
<line x1="162.00" y1="608.40" x2="162.00" y2="609.40" stroke="#888" stroke-width="0.4" />
<line x1="165.00" y1="608.40" x2="165.00" y2="609.40" stroke="#888" stroke-width="0.4" />
<line x1="168.00" y1="608.40" x2="168.00" y2="609.40" stroke="#888" stroke-width="0.4" />
<line x1="171.00" y1="608.40" x2="171.00" y2="609.40" stroke="#888" stroke-width="0.4" />
<line x1="174.00" y1="608.40" x2="174.00" y2="609.40" stroke="#888" stroke-width="0.4" />
<line x1="177.00" y1="608.40" x2="177.00" y2="609.40" stroke="#888" stroke-width="0.4" />
<line x1="180.00" y1="608.40" x2="180.00" y2="609.40" stroke="#888" stroke-width="0.4" />
<line x1="183.00" y1="608.40" x2="183.00" y2="609.40" stroke="#888" stroke-width="0.4" />
<line x1="186.00" y1="608.40" x2="186.00" y2="609.40" stroke="#888" stroke-width="0.4" />
<line x1="189.00" y1="608.40" x2="189.00" y2="609.40" stroke="#888" stroke-width="0.4" />
<line x1="192.00" y1="608.40" x2="192.00" y2="609.40" stroke="#888" stroke-width="0.4" />
<line x1="195.00" y1="608.40" x2="195.00" y2="609.40" stroke="#888" stroke-width="0.4" />
<line x1="198.00" y1="608.40" x2="198.00" y2="609.40" stroke="#888" stroke-width="0.4" />
<line x1="201.00" y1="608.40" x2="201.00" y2="609.40" stroke="#888" stroke-width="0.4" />
<line x1="204.00" y1="608.40" x2="204.00" y2="609.40" stroke="#888" stroke-width="0.4" />
<line x1="207.00" y1="608.40" x2="207.00" y2="609.40" stroke="#888" stroke-width="0.4" />
<line x1="210.00" y1="608.40" x2="210.00" y2="609.40" stroke="#888" stroke-width="0.4" />
<line x1="213.00" y1="608.40" x2="213.00" y2="609.40" stroke="#888" stroke-width="0.4" />
<path d="M80.00,442.00 C86.50,443.00 88.00,452.00 85.50,460.00 C84.50,464.00 90.00,465.00 93.80,469.00 C96.00,473.00 88.00,475.40 80.00,475.00 C73.00,474.50 70.80,470.00 71.50,466.00" fill="none" stroke="#2a2a2a" stroke-width="0.5" opacity="0.9" stroke-linejoin="round"/>
<path d="M79.35,443.04 C85.20,444.30 86.70,452.00 84.20,460.00 C83.20,464.00 88.70,465.39 92.50,469.00 C94.70,472.61 88.00,474.62 80.00,474.22 C73.65,473.85 72.10,470.00 72.80,466.00" fill="none" stroke="#2a2a2a" stroke-width="0.5" opacity="0.8" stroke-linejoin="round"/>
<path d="M78.70,444.08 C83.90,445.60 85.40,452.00 82.90,460.00 C81.90,464.00 87.40,465.78 91.20,469.00 C93.40,472.22 88.00,473.84 80.00,473.44 C74.30,473.20 73.40,470.00 74.10,466.00" fill="none" stroke="#2a2a2a" stroke-width="0.5" opacity="0.7" stroke-linejoin="round"/>
<path d="M67.17,453.00 L66.92,453.33 L66.69,453.61 L66.46,453.87 L66.24,454.11 L66.02,454.32 L65.81,454.51 L65.60,454.68 L65.39,454.84 L65.19,454.99 L64.99,455.13 L64.79,455.27 L64.59,455.41 L64.39,455.55 L64.18,455.70 L63.96,455.85 L63.73,456.01 L63.48,456.18 L63.20,456.36 L62.89,456.55 L62.54,456.74 L62.15,456.94 L61.70,457.13 L61.19,457.30 L60.63,457.45 L60.02,457.54 L59.40,457.53 L58.81,457.39 L58.33,457.08 L58.04,456.61 L57.94,456.04 L58.01,455.42 L58.20,454.82 L58.44,454.27 L58.71,453.79 L58.97,453.37 L59.23,453.00 L59.48,452.67 L59.71,452.39 L59.94,452.13 L60.16,451.89 L60.38,451.68 L60.59,451.49 L60.80,451.32 L61.01,451.16 L61.21,451.01 L61.41,450.87 L61.61,450.73 L61.81,450.59 L62.01,450.45 L62.22,450.30 L62.44,450.15 L62.67,449.99 L62.92,449.82 L63.20,449.64 L63.51,449.45 L63.86,449.26 L64.25,449.06 L64.70,448.87 L65.21,448.70 L65.77,448.55 L66.38,448.46 L67.00,448.47 L67.59,448.61 L68.07,448.92 L68.36,449.39 L68.46,449.96 L68.39,450.58 L68.20,451.18 L67.96,451.73 L67.69,452.21 L67.43,452.63Z" fill="none" stroke="#2a2a2a" stroke-width="0.5" opacity="0.95" stroke-linejoin="round"/>
<path d="M68.89,453.00 L68.64,453.48 L68.37,453.91 L68.11,454.32 L67.86,454.69 L67.61,455.06 L67.35,455.40 L66.86,455.56 L66.43,455.71 L66.06,455.86 L65.71,456.00 L65.40,456.14 L65.10,456.28 L64.80,456.43 L64.50,456.58 L64.20,456.74 L63.89,456.90 L63.56,457.06 L63.20,457.22 L62.82,457.38 L62.40,457.53 L61.94,457.69 L61.44,457.83 L60.89,457.96 L60.27,458.07 L59.61,458.13 L58.90,458.12 L58.23,457.97 L57.78,457.55 L57.47,457.01 L57.34,456.38 L57.37,455.72 L57.52,455.07 L57.74,454.46 L57.99,453.92 L58.25,453.43 L58.51,453.00 L58.77,452.61 L59.02,452.26 L59.27,451.95 L59.54,451.67 L59.79,451.41 L60.04,451.18 L60.28,450.95 L60.51,450.74 L60.74,450.54 L60.99,450.36 L61.23,450.18 L61.47,450.00 L61.71,449.81 L61.97,449.63 L62.25,449.46 L62.55,449.29 L62.86,449.12 L63.20,448.95 L63.57,448.78 L63.97,448.61 L64.42,448.45 L64.91,448.31 L65.45,448.18 L66.05,448.07 L66.70,448.00 L67.38,448.01 L68.06,448.14 L68.65,448.43 L69.11,448.86 L69.44,449.40 L69.57,450.03 L69.58,450.68 L69.53,451.30 L69.35,451.92 L69.15,452.48Z" fill="none" stroke="#2a2a2a" stroke-width="0.5" opacity="0.95" stroke-linejoin="round"/>
<path d="M70.88,453.00 L70.59,453.65 L70.29,454.25 L70.01,454.82 L69.74,455.38 L69.50,455.94 L69.22,456.48 L68.41,456.65 L67.75,456.81 L67.17,456.97 L66.66,457.12 L66.19,457.27 L65.75,457.42 L65.33,457.56 L64.91,457.69 L64.49,457.82 L64.07,457.94 L63.64,458.06 L63.20,458.17 L62.74,458.28 L62.25,458.40 L61.72,458.51 L61.15,458.63 L60.52,458.74 L59.82,458.85 L59.05,458.92 L58.22,458.94 L57.41,458.79 L56.96,458.23 L56.65,457.58 L56.51,456.86 L56.53,456.11 L56.67,455.38 L56.91,454.68 L57.18,454.06 L57.47,453.50 L57.75,453.00 L58.02,452.55 L58.27,452.13 L58.53,451.75 L58.82,451.41 L59.10,451.09 L59.36,450.78 L59.61,450.49 L59.85,450.19 L60.12,449.92 L60.42,449.68 L60.72,449.45 L61.02,449.22 L61.33,448.99 L61.67,448.78 L62.03,448.63 L62.40,448.48 L62.79,448.34 L63.20,448.20 L63.63,448.06 L64.10,447.91 L64.60,447.79 L65.14,447.67 L65.74,447.56 L66.40,447.45 L67.14,447.37 L67.93,447.36 L68.74,447.46 L69.50,447.72 L70.17,448.12 L70.75,448.64 L71.09,449.32 L71.30,450.05 L71.45,450.79 L71.32,451.57 L71.16,452.30Z" fill="none" stroke="#2a2a2a" stroke-width="0.5" opacity="0.95" stroke-linejoin="round"/>
<path d="M72.88,453.00 L72.62,453.82 L72.34,454.61 L72.09,455.38 L71.86,456.15 L71.65,456.94 L71.38,457.72 L70.22,457.92 L69.27,458.09 L68.45,458.25 L67.72,458.38 L67.06,458.51 L66.44,458.62 L65.87,458.72 L65.31,458.80 L64.77,458.88 L64.25,458.95 L63.73,459.03 L63.20,459.12 L62.66,459.21 L62.08,459.33 L61.47,459.45 L60.81,459.57 L60.07,459.71 L59.26,459.83 L58.36,459.92 L57.38,459.94 L56.44,459.76 L56.04,459.01 L55.78,458.20 L55.68,457.34 L55.72,456.49 L55.89,455.66 L56.16,454.89 L56.44,454.19 L56.73,453.57 L56.99,453.00 L57.24,452.48 L57.47,451.99 L57.69,451.52 L57.99,451.10 L58.27,450.70 L58.54,450.31 L58.80,449.92 L59.07,449.54 L59.40,449.20 L59.78,448.92 L60.16,448.66 L60.55,448.41 L60.94,448.16 L61.36,447.95 L61.81,447.83 L62.27,447.71 L62.73,447.59 L63.20,447.46 L63.70,447.32 L64.23,447.16 L64.80,447.03 L65.42,446.91 L66.10,446.78 L66.86,446.66 L67.70,446.57 L68.62,446.54 L69.56,446.64 L70.46,446.91 L71.30,447.33 L72.11,447.86 L72.63,448.60 L73.00,449.43 L73.33,450.28 L73.26,451.23 L73.17,452.13Z" fill="none" stroke="#2a2a2a" stroke-width="0.5" opacity="0.95" stroke-linejoin="round"/>
<path d="M75.10,453.00 L74.92,454.03 L74.70,455.03 L74.49,456.03 L74.29,457.03 L74.08,458.07 L73.76,459.10 L72.16,459.28 L70.86,459.42 L69.73,459.53 L68.75,459.62 L67.89,459.69 L67.10,459.75 L66.38,459.81 L65.70,459.86 L65.06,459.92 L64.43,460.00 L63.82,460.08 L63.20,460.19 L62.56,460.31 L61.89,460.44 L61.17,460.58 L60.39,460.71 L59.55,460.83 L58.63,460.92 L57.62,460.97 L56.53,460.95 L55.51,460.69 L55.20,459.71 L55.01,458.73 L54.96,457.76 L55.02,456.81 L55.18,455.92 L55.43,455.08 L55.68,454.33 L55.91,453.64 L56.12,453.00 L56.31,452.40 L56.49,451.82 L56.68,451.25 L57.00,450.74 L57.31,450.25 L57.62,449.78 L57.94,449.32 L58.27,448.86 L58.68,448.48 L59.16,448.19 L59.64,447.92 L60.11,447.65 L60.58,447.39 L61.08,447.17 L61.60,447.04 L62.13,446.91 L62.65,446.77 L63.20,446.61 L63.77,446.43 L64.39,446.24 L65.05,446.10 L65.76,445.97 L66.53,445.85 L67.38,445.76 L68.30,445.71 L69.30,445.73 L70.34,445.86 L71.33,446.17 L72.32,446.61 L73.34,447.15 L74.05,447.94 L74.63,448.84 L75.20,449.78 L75.25,450.87 L75.31,451.94Z" fill="none" stroke="#2a2a2a" stroke-width="0.5" opacity="0.95" stroke-linejoin="round"/>
<path d="M77.68,453.00 L77.54,454.25 L77.30,455.49 L77.06,456.71 L76.79,457.95 L76.50,459.20 L76.07,460.43 L74.00,460.56 L72.33,460.66 L70.93,460.73 L69.73,460.78 L68.69,460.83 L67.76,460.90 L66.91,460.97 L66.13,461.04 L65.38,461.13 L64.65,461.23 L63.93,461.34 L63.20,461.46 L62.45,461.58 L61.67,461.69 L60.84,461.79 L59.98,461.86 L59.05,461.91 L58.05,461.93 L56.96,461.90 L55.79,461.83 L54.70,461.50 L54.46,460.33 L54.31,459.23 L54.25,458.17 L54.26,457.17 L54.34,456.22 L54.53,455.32 L54.72,454.50 L54.89,453.73 L55.06,453.00 L55.23,452.30 L55.40,451.62 L55.60,450.96 L55.99,450.37 L56.38,449.82 L56.76,449.28 L57.15,448.77 L57.55,448.26 L58.04,447.84 L58.60,447.52 L59.14,447.21 L59.67,446.89 L60.20,446.57 L60.76,446.29 L61.36,446.12 L61.96,445.95 L62.57,445.77 L63.20,445.59 L63.87,445.40 L64.57,445.21 L65.32,445.10 L66.10,445.03 L66.94,444.98 L67.84,444.96 L68.82,444.97 L69.88,445.04 L70.99,445.21 L72.11,445.53 L73.28,445.94 L74.57,446.44 L75.55,447.24 L76.43,448.18 L77.35,449.21 L77.59,450.46 L77.82,451.72Z" fill="none" stroke="#2a2a2a" stroke-width="0.5" opacity="0.95" stroke-linejoin="round"/>
<path d="M80.33,453.00 L80.11,454.48 L79.78,455.92 L79.43,457.35 L79.06,458.77 L78.71,460.23 L78.19,461.66 L75.73,461.77 L73.78,461.88 L72.16,461.96 L70.79,462.04 L69.59,462.13 L68.53,462.23 L67.55,462.34 L66.63,462.43 L65.75,462.53 L64.90,462.62 L64.05,462.70 L63.20,462.76 L62.34,462.81 L61.46,462.85 L60.56,462.86 L59.62,462.85 L58.62,462.83 L57.54,462.80 L56.37,462.75 L55.08,462.68 L53.86,462.34 L53.62,461.04 L53.44,459.84 L53.32,458.70 L53.26,457.63 L53.29,456.61 L53.45,455.61 L53.62,454.69 L53.80,453.82 L53.99,453.00 L54.18,452.21 L54.39,451.45 L54.64,450.71 L55.11,450.05 L55.56,449.44 L56.00,448.84 L56.43,448.26 L56.84,447.67 L57.36,447.16 L57.98,446.77 L58.57,446.38 L59.15,445.99 L59.74,445.58 L60.37,445.23 L61.07,445.05 L61.77,444.87 L62.47,444.70 L63.20,444.54 L63.95,444.40 L64.74,444.26 L65.55,444.23 L66.39,444.23 L67.28,444.25 L68.24,444.27 L69.28,444.31 L70.44,444.38 L71.69,444.51 L72.99,444.79 L74.43,445.14 L76.08,445.57 L77.39,446.38 L78.59,447.40 L79.83,448.54 L80.19,450.00 L80.51,451.49Z" fill="none" stroke="#2a2a2a" stroke-width="0.5" opacity="0.95" stroke-linejoin="round"/>
<path d="M82.67,453.00 L82.38,454.68 L81.99,456.31 L81.61,457.93 L81.26,459.57 L80.94,461.27 L80.47,462.97 L77.68,463.14 L75.47,463.30 L73.63,463.43 L72.04,463.54 L70.66,463.65 L69.40,463.75 L68.25,463.82 L67.16,463.87 L66.12,463.90 L65.12,463.90 L64.15,463.90 L63.20,463.88 L62.25,463.86 L61.29,463.84 L60.30,463.82 L59.27,463.79 L58.18,463.77 L56.99,463.76 L55.67,463.76 L54.18,463.74 L52.77,463.43 L52.54,461.95 L52.36,460.59 L52.23,459.33 L52.18,458.14 L52.21,457.00 L52.41,455.89 L52.63,454.86 L52.86,453.91 L53.08,453.00 L53.31,452.13 L53.53,451.29 L53.78,450.47 L54.27,449.75 L54.73,449.05 L55.16,448.36 L55.58,447.67 L55.99,446.95 L56.54,446.34 L57.22,445.87 L57.89,445.41 L58.55,444.95 L59.24,444.50 L59.97,444.14 L60.79,444.00 L61.59,443.87 L62.39,443.76 L63.20,443.66 L64.03,443.56 L64.88,443.46 L65.76,443.46 L66.66,443.49 L67.63,443.50 L68.68,443.50 L69.85,443.51 L71.15,443.52 L72.59,443.61 L74.11,443.84 L75.83,444.16 L77.81,444.56 L79.39,445.45 L80.82,446.59 L82.26,447.89 L82.63,449.57 L82.94,451.27Z" fill="none" stroke="#2a2a2a" stroke-width="0.5" opacity="0.95" stroke-linejoin="round"/>
<path d="M84.86,453.00 L84.64,454.88 L84.33,456.73 L84.06,458.59 L83.82,460.51 L83.61,462.52 L83.18,464.54 L79.97,464.74 L77.40,464.92 L75.23,465.03 L73.35,465.10 L71.70,465.14 L70.22,465.16 L68.87,465.15 L67.61,465.11 L66.43,465.05 L65.32,465.00 L64.25,464.95 L63.20,464.92 L62.16,464.90 L61.10,464.91 L60.00,464.93 L58.85,464.94 L57.62,464.97 L56.28,464.99 L54.79,465.01 L53.13,465.00 L51.57,464.63 L51.42,462.89 L51.31,461.32 L51.27,459.89 L51.26,458.57 L51.35,457.31 L51.59,456.11 L51.83,455.00 L52.05,453.98 L52.26,453.00 L52.44,452.06 L52.60,451.13 L52.78,450.21 L53.25,449.38 L53.69,448.57 L54.13,447.76 L54.56,446.95 L55.01,446.13 L55.64,445.44 L56.43,444.93 L57.22,444.45 L58.00,444.00 L58.79,443.55 L59.64,443.21 L60.55,443.12 L61.44,443.04 L62.32,442.95 L63.20,442.85 L64.10,442.73 L65.04,442.59 L66.00,442.55 L67.01,442.54 L68.09,442.52 L69.26,442.50 L70.56,442.49 L72.01,442.50 L73.61,442.59 L75.28,442.86 L77.18,443.21 L79.40,443.65 L81.15,444.63 L82.72,445.90 L84.33,447.34 L84.73,449.20 L85.11,451.08Z" fill="none" stroke="#2a2a2a" stroke-width="0.5" opacity="0.95" stroke-linejoin="round"/>
<path d="M87.46,453.00 L87.40,455.12 L87.20,457.23 L87.01,459.38 L86.80,461.59 L86.58,463.90 L86.05,466.19 L82.26,466.35 L79.23,466.45 L76.67,466.47 L74.48,466.44 L72.58,466.40 L70.91,466.35 L69.40,466.29 L68.01,466.23 L66.73,466.18 L65.52,466.16 L64.35,466.16 L63.20,466.18 L62.04,466.22 L60.86,466.28 L59.63,466.32 L58.35,466.33 L56.99,466.33 L55.52,466.30 L53.93,466.24 L52.16,466.15 L50.54,465.66 L50.52,463.64 L50.51,461.88 L50.52,460.32 L50.53,458.91 L50.60,457.59 L50.80,456.32 L50.97,455.16 L51.11,454.06 L51.23,453.00 L51.32,451.96 L51.40,450.92 L51.54,449.88 L52.04,448.94 L52.53,448.02 L53.03,447.13 L53.55,446.24 L54.09,445.36 L54.84,444.64 L55.77,444.14 L56.67,443.67 L57.55,443.21 L58.42,442.75 L59.34,442.38 L60.33,442.28 L61.29,442.15 L62.24,442.01 L63.20,441.85 L64.19,441.66 L65.23,441.47 L66.31,441.41 L67.42,441.40 L68.60,441.41 L69.87,441.44 L71.25,441.50 L72.78,441.58 L74.46,441.74 L76.22,442.07 L78.26,442.46 L80.68,442.91 L82.62,443.94 L84.43,445.27 L86.33,446.80 L86.94,448.81 L87.54,450.87Z" fill="none" stroke="#2a2a2a" stroke-width="0.5" opacity="0.95" stroke-linejoin="round"/>
<ellipse cx="78.2" cy="469.6" rx="2.2" ry="1.4" fill="none" stroke="#333" stroke-width="0.5"/>
<ellipse cx="88.2" cy="471" rx="2.6" ry="1.5" fill="none" stroke="#333" stroke-width="0.5"/>
<ellipse cx="83" cy="470.6" rx="8.5" ry="3.6" fill="none" stroke="#333" stroke-width="0.5"/>
<ellipse cx="83" cy="470.8" rx="10.2" ry="4.4" fill="none" stroke="#444" stroke-width="0.5"/>
<ellipse cx="56.20" cy="477.20" rx="8.90" ry="8.50" fill="#b4b4b4"/>
<ellipse cx="56.20" cy="477.20" rx="8.90" ry="8.50" fill="none" stroke="#777" stroke-width="0.6"/>
<ellipse cx="56.20" cy="477.12" rx="8.28" ry="7.91" fill="none" stroke="#2a2a2a" stroke-width="0.8"/>
<ellipse cx="56.20" cy="477.03" rx="7.65" ry="7.31" fill="none" stroke="#111" stroke-width="0.9"/>
<ellipse cx="56.20" cy="476.95" rx="7.03" ry="6.71" fill="none" stroke="#0a0a0a" stroke-width="0.9"/>
<ellipse cx="56.20" cy="476.86" rx="6.41" ry="6.12" fill="none" stroke="#0a0a0a" stroke-width="0.9"/>
<ellipse cx="56.20" cy="476.78" rx="5.79" ry="5.53" fill="none" stroke="#111" stroke-width="0.9"/>
<ellipse cx="56.20" cy="476.70" rx="5.16" ry="4.93" fill="none" stroke="#333" stroke-width="0.7"/>
<ellipse cx="56.20" cy="476.54" rx="4.00" ry="3.83" fill="none" stroke="#777" stroke-width="0.5"/>
<ellipse cx="56.20" cy="476.36" rx="2.67" ry="2.55" fill="none" stroke="#888" stroke-width="0.5"/>
<ellipse cx="56.20" cy="476.19" rx="1.42" ry="1.36" fill="none" stroke="#999" stroke-width="0.5"/>
<path d="M160.00,463.00 C164.00,466.00 166.00,468.00 168.00,471.00 C170.00,475.50 178.00,476.60 185.00,476.20 C192.00,475.50 195.50,470.00 190.00,466.50 C185.00,463.50 176.00,464.00 171.00,465.00" fill="none" stroke="#2a2a2a" stroke-width="0.5" opacity="0.9" stroke-linejoin="round"/>
<path d="M161.40,462.72 C165.40,466.00 166.84,468.00 168.84,471.00 C170.70,474.80 178.00,475.76 185.00,475.36 C190.60,474.80 194.10,470.00 188.60,466.92 C185.00,463.92 176.00,464.70 171.00,465.70" fill="none" stroke="#2a2a2a" stroke-width="0.5" opacity="0.8" stroke-linejoin="round"/>
<path d="M162.80,462.44 C166.80,466.00 167.68,468.00 169.68,471.00 C171.40,474.10 178.00,474.92 185.00,474.52 C189.20,474.10 192.70,470.00 187.20,467.34 C185.00,464.34 176.00,465.40 171.00,466.40" fill="none" stroke="#2a2a2a" stroke-width="0.5" opacity="0.7" stroke-linejoin="round"/>
<path d="M171.67,452.50 L171.25,453.04 L170.75,453.50 L170.21,453.87 L169.69,454.17 L169.20,454.41 L168.75,454.61 L168.33,454.76 L167.94,454.88 L167.58,454.98 L167.25,455.06 L166.94,455.13 L166.66,455.20 L166.38,455.26 L166.12,455.31 L165.87,455.37 L165.62,455.43 L165.36,455.48 L165.10,455.54 L164.83,455.59 L164.55,455.64 L164.25,455.68 L163.93,455.71 L163.60,455.73 L163.23,455.73 L162.84,455.73 L162.41,455.70 L161.95,455.65 L161.43,455.58 L160.86,455.47 L160.25,455.30 L159.61,455.06 L159.01,454.72 L158.54,454.26 L158.27,453.70 L158.28,453.10 L158.53,452.50 L158.95,451.96 L159.45,451.50 L159.99,451.13 L160.51,450.83 L161.00,450.59 L161.45,450.39 L161.87,450.24 L162.26,450.12 L162.62,450.02 L162.95,449.94 L163.26,449.87 L163.54,449.80 L163.82,449.74 L164.08,449.69 L164.33,449.63 L164.58,449.57 L164.84,449.52 L165.10,449.46 L165.37,449.41 L165.65,449.36 L165.95,449.32 L166.27,449.29 L166.60,449.27 L166.97,449.27 L167.36,449.27 L167.79,449.30 L168.25,449.35 L168.77,449.42 L169.34,449.53 L169.95,449.70 L170.59,449.94 L171.19,450.28 L171.66,450.74 L171.93,451.30 L171.92,451.90Z" fill="none" stroke="#2a2a2a" stroke-width="0.5" opacity="0.92" stroke-linejoin="round"/>
<path d="M173.04,452.50 L172.59,453.16 L172.05,453.73 L171.46,454.20 L170.87,454.60 L170.30,454.93 L169.70,455.16 L169.17,455.35 L168.69,455.51 L168.22,455.62 L167.79,455.71 L167.41,455.80 L167.05,455.88 L166.71,455.96 L166.39,456.03 L166.07,456.10 L165.75,456.16 L165.42,456.21 L165.10,456.25 L164.77,456.28 L164.43,456.30 L164.08,456.31 L163.71,456.31 L163.33,456.31 L162.92,456.27 L162.49,456.23 L162.01,456.18 L161.48,456.12 L160.93,456.00 L160.33,455.84 L159.68,455.63 L159.00,455.34 L158.38,454.95 L157.91,454.43 L157.64,453.82 L157.64,453.15 L157.89,452.50 L158.32,451.91 L158.85,451.40 L159.39,450.97 L159.92,450.61 L160.42,450.32 L160.91,450.08 L161.36,449.88 L161.77,449.70 L162.14,449.54 L162.50,449.41 L162.85,449.29 L163.19,449.19 L163.51,449.08 L163.82,448.98 L164.13,448.88 L164.45,448.81 L164.77,448.75 L165.10,448.70 L165.44,448.66 L165.78,448.63 L166.14,448.61 L166.52,448.59 L166.92,448.60 L167.34,448.62 L167.80,448.64 L168.31,448.68 L168.87,448.73 L169.50,448.81 L170.17,448.95 L170.91,449.14 L171.69,449.43 L172.38,449.85 L172.96,450.39 L173.28,451.06 L173.29,451.78Z" fill="none" stroke="#2a2a2a" stroke-width="0.5" opacity="0.92" stroke-linejoin="round"/>
<path d="M174.44,452.50 L173.94,453.27 L173.39,453.96 L172.76,454.55 L172.13,455.06 L171.52,455.49 L170.80,455.79 L170.17,456.05 L169.61,456.28 L169.02,456.42 L168.48,456.53 L167.99,456.63 L167.54,456.72 L167.11,456.81 L166.69,456.88 L166.29,456.93 L165.89,456.96 L165.49,456.98 L165.10,456.98 L164.71,456.98 L164.31,456.97 L163.90,456.96 L163.48,456.96 L163.03,456.95 L162.56,456.90 L162.05,456.85 L161.50,456.80 L160.87,456.73 L160.25,456.57 L159.61,456.34 L158.93,456.06 L158.23,455.70 L157.64,455.22 L157.22,454.61 L157.02,453.92 L157.06,453.20 L157.32,452.50 L157.76,451.86 L158.28,451.30 L158.81,450.81 L159.31,450.39 L159.78,450.02 L160.27,449.71 L160.73,449.44 L161.14,449.18 L161.53,448.93 L161.93,448.72 L162.34,448.56 L162.74,448.41 L163.13,448.28 L163.52,448.15 L163.90,448.03 L164.30,447.98 L164.70,447.94 L165.10,447.91 L165.50,447.89 L165.92,447.87 L166.34,447.86 L166.80,447.84 L167.27,447.85 L167.78,447.86 L168.33,447.88 L168.96,447.90 L169.66,447.94 L170.43,448.02 L171.24,448.20 L172.12,448.45 L173.05,448.79 L173.79,449.34 L174.43,450.00 L174.75,450.80 L174.72,451.66Z" fill="none" stroke="#2a2a2a" stroke-width="0.5" opacity="0.92" stroke-linejoin="round"/>
<path d="M175.77,452.50 L175.30,453.39 L174.79,454.21 L174.19,454.93 L173.56,455.58 L172.93,456.15 L172.09,456.54 L171.35,456.88 L170.67,457.18 L169.92,457.32 L169.24,457.43 L168.61,457.52 L168.04,457.59 L167.50,457.64 L166.99,457.68 L166.50,457.71 L166.02,457.71 L165.55,457.70 L165.10,457.69 L164.65,457.68 L164.19,457.68 L163.71,457.69 L163.21,457.70 L162.67,457.71 L162.12,457.66 L161.53,457.60 L160.88,457.53 L160.17,457.43 L159.51,457.19 L158.86,456.87 L158.19,456.49 L157.52,456.03 L157.00,455.45 L156.68,454.76 L156.54,454.01 L156.59,453.24 L156.83,452.50 L157.22,451.81 L157.68,451.19 L158.14,450.64 L158.58,450.13 L158.99,449.65 L159.49,449.26 L159.96,448.90 L160.41,448.56 L160.84,448.24 L161.30,447.97 L161.80,447.79 L162.29,447.63 L162.76,447.48 L163.23,447.35 L163.69,447.24 L164.17,447.20 L164.63,447.18 L165.10,447.15 L165.57,447.12 L166.05,447.09 L166.56,447.04 L167.11,446.99 L167.68,446.97 L168.30,446.97 L168.97,446.97 L169.72,446.99 L170.56,447.04 L171.47,447.16 L172.37,447.41 L173.34,447.74 L174.36,448.18 L175.11,448.86 L175.76,449.64 L176.07,450.57 L176.03,451.54Z" fill="none" stroke="#2a2a2a" stroke-width="0.5" opacity="0.92" stroke-linejoin="round"/>
<path d="M177.28,452.50 L176.89,453.53 L176.45,454.50 L175.87,455.39 L175.22,456.18 L174.52,456.89 L173.50,457.35 L172.59,457.74 L171.75,458.08 L170.80,458.20 L169.94,458.27 L169.18,458.33 L168.49,458.37 L167.85,458.40 L167.26,458.43 L166.70,458.46 L166.15,458.46 L165.62,458.47 L165.10,458.48 L164.58,458.50 L164.04,458.52 L163.48,458.55 L162.89,458.57 L162.26,458.59 L161.64,458.50 L160.97,458.39 L160.27,458.26 L159.51,458.09 L158.84,457.76 L158.22,457.32 L157.59,456.84 L156.94,456.30 L156.47,455.64 L156.19,454.89 L156.04,454.10 L156.05,453.29 L156.20,452.50 L156.50,451.75 L156.90,451.05 L157.30,450.41 L157.69,449.80 L158.08,449.23 L158.63,448.77 L159.16,448.34 L159.67,447.94 L160.17,447.57 L160.72,447.28 L161.31,447.09 L161.88,446.93 L162.43,446.77 L162.96,446.62 L163.48,446.47 L164.03,446.42 L164.56,446.36 L165.10,446.30 L165.65,446.23 L166.22,446.15 L166.82,446.07 L167.47,445.99 L168.15,445.96 L168.87,445.98 L169.64,446.02 L170.49,446.08 L171.43,446.17 L172.42,446.36 L173.38,446.70 L174.42,447.12 L175.53,447.64 L176.31,448.42 L177.04,449.30 L177.42,450.33 L177.45,451.42Z" fill="none" stroke="#2a2a2a" stroke-width="0.5" opacity="0.92" stroke-linejoin="round"/>
<path d="M179.10,452.50 L178.72,453.69 L178.29,454.83 L177.65,455.86 L176.89,456.79 L176.06,457.61 L174.81,458.11 L173.70,458.52 L172.70,458.88 L171.58,458.98 L170.58,459.04 L169.71,459.09 L168.93,459.14 L168.22,459.20 L167.56,459.26 L166.93,459.33 L166.31,459.37 L165.70,459.40 L165.10,459.42 L164.49,459.45 L163.87,459.46 L163.23,459.46 L162.57,459.45 L161.87,459.42 L161.20,459.26 L160.49,459.08 L159.75,458.88 L158.94,458.66 L158.25,458.24 L157.64,457.73 L156.99,457.18 L156.31,456.60 L155.81,455.88 L155.52,455.07 L155.33,454.22 L155.28,453.36 L155.37,452.50 L155.63,451.67 L156.00,450.90 L156.40,450.17 L156.80,449.48 L157.23,448.83 L157.86,448.32 L158.46,447.85 L159.03,447.41 L159.59,446.99 L160.19,446.65 L160.86,446.44 L161.48,446.23 L162.08,446.02 L162.66,445.80 L163.24,445.57 L163.86,445.48 L164.48,445.38 L165.10,445.29 L165.74,445.20 L166.40,445.11 L167.10,445.04 L167.84,444.98 L168.60,445.00 L169.39,445.08 L170.23,445.17 L171.16,445.28 L172.18,445.42 L173.27,445.64 L174.32,446.04 L175.49,446.50 L176.76,447.06 L177.66,447.93 L178.55,448.89 L179.07,450.04 L179.18,451.27Z" fill="none" stroke="#2a2a2a" stroke-width="0.5" opacity="0.92" stroke-linejoin="round"/>
<path d="M180.92,452.50 L180.47,453.84 L179.97,455.12 L179.21,456.28 L178.34,457.32 L177.39,458.23 L175.97,458.77 L174.73,459.24 L173.63,459.66 L172.38,459.78 L171.29,459.87 L170.33,459.97 L169.47,460.06 L168.67,460.16 L167.92,460.26 L167.20,460.35 L166.49,460.38 L165.79,460.38 L165.10,460.38 L164.41,460.35 L163.72,460.31 L163.02,460.26 L162.30,460.19 L161.55,460.12 L160.82,459.91 L160.06,459.70 L159.24,459.48 L158.35,459.25 L157.60,458.80 L156.92,458.23 L156.21,457.63 L155.46,456.99 L154.94,456.20 L154.66,455.30 L154.49,454.37 L154.46,453.43 L154.55,452.50 L154.83,451.60 L155.24,450.76 L155.66,449.97 L156.09,449.22 L156.53,448.50 L157.20,447.94 L157.83,447.41 L158.42,446.89 L158.98,446.38 L159.62,445.96 L160.32,445.68 L161.00,445.39 L161.65,445.11 L162.30,444.82 L162.97,444.53 L163.68,444.43 L164.39,444.34 L165.10,444.27 L165.82,444.21 L166.57,444.17 L167.34,444.14 L168.15,444.12 L168.98,444.18 L169.84,444.29 L170.77,444.40 L171.80,444.52 L172.97,444.63 L174.22,444.85 L175.43,445.27 L176.80,445.75 L178.29,446.35 L179.32,447.32 L180.35,448.41 L180.93,449.71 L181.04,451.11Z" fill="none" stroke="#2a2a2a" stroke-width="0.5" opacity="0.92" stroke-linejoin="round"/>
<path d="M182.44,452.50 L181.92,453.97 L181.38,455.37 L180.59,456.65 L179.70,457.81 L178.73,458.86 L177.21,459.49 L175.90,460.06 L174.73,460.58 L173.36,460.76 L172.14,460.89 L171.06,461.01 L170.07,461.12 L169.16,461.21 L168.30,461.28 L167.47,461.33 L166.65,461.30 L165.86,461.24 L165.10,461.17 L164.35,461.10 L163.60,461.02 L162.84,460.95 L162.05,460.89 L161.22,460.83 L160.41,460.63 L159.55,460.43 L158.62,460.22 L157.60,460.00 L156.76,459.50 L156.03,458.85 L155.29,458.16 L154.54,457.43 L154.07,456.51 L153.89,455.50 L153.80,454.49 L153.82,453.49 L153.94,452.50 L154.24,451.55 L154.65,450.66 L155.05,449.81 L155.42,448.98 L155.81,448.17 L156.47,447.52 L157.08,446.89 L157.67,446.26 L158.24,445.64 L158.91,445.12 L159.69,444.77 L160.44,444.43 L161.19,444.12 L161.94,443.82 L162.70,443.53 L163.51,443.47 L164.31,443.44 L165.10,443.41 L165.90,443.39 L166.71,443.37 L167.55,443.35 L168.44,443.31 L169.37,443.35 L170.34,443.43 L171.40,443.51 L172.58,443.58 L173.94,443.66 L175.38,443.88 L176.76,444.34 L178.29,444.88 L179.94,445.58 L181.01,446.71 L182.07,447.95 L182.60,449.41 L182.62,450.97Z" fill="none" stroke="#2a2a2a" stroke-width="0.5" opacity="0.92" stroke-linejoin="round"/>
<path d="M183.81,452.50 L183.35,454.10 L182.91,455.64 L182.19,457.08 L181.35,458.41 L180.39,459.63 L178.76,460.38 L177.32,461.05 L176.01,461.66 L174.43,461.83 L173.02,461.94 L171.77,462.02 L170.63,462.08 L169.58,462.11 L168.60,462.13 L167.68,462.13 L166.79,462.06 L165.93,461.97 L165.10,461.90 L164.28,461.84 L163.46,461.79 L162.62,461.76 L161.73,461.75 L160.79,461.73 L159.88,461.54 L158.92,461.33 L157.88,461.10 L156.77,460.83 L155.89,460.22 L155.19,459.44 L154.48,458.63 L153.79,457.78 L153.42,456.75 L153.34,455.65 L153.32,454.58 L153.35,453.53 L153.42,452.50 L153.65,451.50 L153.98,450.54 L154.28,449.60 L154.57,448.67 L154.89,447.74 L155.54,446.98 L156.16,446.24 L156.78,445.52 L157.41,444.81 L158.17,444.24 L159.07,443.89 L159.94,443.56 L160.79,443.26 L161.64,442.98 L162.48,442.71 L163.37,442.68 L164.24,442.66 L165.10,442.63 L165.97,442.58 L166.86,442.51 L167.80,442.43 L168.80,442.32 L169.85,442.31 L170.96,442.36 L172.16,442.41 L173.50,442.49 L175.00,442.60 L176.58,442.87 L178.04,443.44 L179.65,444.10 L181.35,444.92 L182.39,446.21 L183.43,447.59 L183.95,449.18 L183.95,450.85Z" fill="none" stroke="#2a2a2a" stroke-width="0.5" opacity="0.92" stroke-linejoin="round"/>
<path d="M185.52,452.50 L185.18,454.26 L184.86,455.98 L184.17,457.61 L183.30,459.12 L182.25,460.50 L180.38,461.32 L178.71,462.03 L177.19,462.64 L175.36,462.76 L173.75,462.81 L172.34,462.84 L171.08,462.85 L169.93,462.86 L168.88,462.88 L167.89,462.90 L166.93,462.86 L166.00,462.82 L165.10,462.79 L164.20,462.78 L163.29,462.78 L162.34,462.78 L161.36,462.78 L160.32,462.75 L159.33,462.50 L158.30,462.21 L157.22,461.89 L156.07,461.53 L155.21,460.80 L154.55,459.89 L153.89,458.97 L153.22,458.04 L152.88,456.95 L152.82,455.79 L152.77,454.67 L152.73,453.58 L152.69,452.50 L152.82,451.43 L153.05,450.38 L153.29,449.33 L153.53,448.29 L153.83,447.25 L154.55,446.41 L155.27,445.61 L155.98,444.85 L156.70,444.10 L157.57,443.52 L158.58,443.18 L159.54,442.87 L160.46,442.56 L161.37,442.25 L162.27,441.93 L163.22,441.85 L164.16,441.77 L165.10,441.67 L166.06,441.55 L167.05,441.42 L168.11,441.28 L169.23,441.14 L170.40,441.14 L171.61,441.23 L172.91,441.34 L174.34,441.49 L175.92,441.68 L177.56,442.04 L179.06,442.73 L180.71,443.48 L182.51,444.38 L183.59,445.77 L184.75,447.24 L185.38,448.92 L185.51,450.71Z" fill="none" stroke="#2a2a2a" stroke-width="0.5" opacity="0.92" stroke-linejoin="round"/>
<path d="M187.63,452.50 L187.30,454.44 L186.95,456.35 L186.15,458.14 L185.11,459.78 L183.87,461.25 L181.72,462.09 L179.82,462.81 L178.12,463.43 L176.12,463.52 L174.38,463.56 L172.87,463.60 L171.54,463.65 L170.33,463.71 L169.21,463.80 L168.15,463.89 L167.11,463.90 L166.10,463.90 L165.10,463.89 L164.10,463.88 L163.10,463.85 L162.07,463.80 L161.01,463.73 L159.91,463.63 L158.88,463.27 L157.82,462.90 L156.71,462.50 L155.52,462.08 L154.64,461.28 L153.96,460.30 L153.26,459.34 L152.52,458.36 L152.14,457.22 L152.05,456.00 L151.95,454.82 L151.84,453.66 L151.73,452.50 L151.82,451.34 L152.05,450.20 L152.30,449.07 L152.58,447.94 L152.94,446.83 L153.77,445.96 L154.57,445.13 L155.36,444.33 L156.14,443.54 L157.06,442.91 L158.12,442.53 L159.12,442.14 L160.09,441.75 L161.04,441.34 L162.00,440.91 L163.03,440.77 L164.06,440.63 L165.10,440.49 L166.16,440.36 L167.26,440.24 L168.41,440.14 L169.63,440.05 L170.87,440.13 L172.14,440.30 L173.50,440.50 L174.99,440.72 L176.65,440.95 L178.40,441.34 L180.00,442.06 L181.82,442.84 L183.84,443.76 L185.10,445.22 L186.47,446.77 L187.28,448.59 L187.53,450.54Z" fill="none" stroke="#2a2a2a" stroke-width="0.5" opacity="0.92" stroke-linejoin="round"/>
<path d="M187.30,470.30 L187.24,470.49 L187.08,470.67 L186.81,470.84 L186.44,471.01 L185.98,471.15 L185.45,471.27 L184.84,471.37 L184.19,471.44 L183.50,471.49 L182.80,471.50 L182.10,471.49 L181.41,471.44 L180.76,471.37 L180.15,471.27 L179.62,471.15 L179.16,471.01 L178.79,470.84 L178.52,470.67 L178.36,470.49 L178.30,470.30 L178.36,470.11 L178.52,469.93 L178.79,469.76 L179.16,469.59 L179.62,469.45 L180.15,469.33 L180.76,469.23 L181.41,469.16 L182.10,469.11 L182.80,469.10 L183.50,469.11 L184.19,469.16 L184.84,469.23 L185.45,469.33 L185.98,469.45 L186.44,469.59 L186.81,469.76 L187.08,469.93 L187.24,470.11Z" fill="none" stroke="#444" stroke-width="0.5" opacity="0.9" stroke-linejoin="round"/>
<path d="M188.34,470.28 L188.27,470.56 L188.07,470.82 L187.74,471.08 L187.29,471.31 L186.72,471.52 L186.06,471.70 L185.33,471.85 L184.53,471.95 L183.68,472.02 L182.82,472.04 L181.96,472.02 L181.11,471.95 L180.31,471.85 L179.58,471.70 L178.92,471.52 L178.35,471.31 L177.90,471.08 L177.57,470.82 L177.37,470.56 L177.30,470.28 L177.37,470.00 L177.57,469.74 L177.90,469.48 L178.35,469.25 L178.92,469.04 L179.58,468.86 L180.31,468.71 L181.11,468.61 L181.96,468.54 L182.82,468.52 L183.68,468.54 L184.53,468.61 L185.33,468.71 L186.06,468.86 L186.72,469.04 L187.29,469.25 L187.74,469.48 L188.07,469.74 L188.27,470.00Z" fill="none" stroke="#444" stroke-width="0.5" opacity="0.9" stroke-linejoin="round"/>
<path d="M189.38,470.26 L189.30,470.62 L189.06,470.98 L188.67,471.31 L188.13,471.62 L187.46,471.90 L186.68,472.14 L185.81,472.33 L184.86,472.47 L183.86,472.55 L182.84,472.58 L181.82,472.55 L180.82,472.47 L179.87,472.33 L179.00,472.14 L178.22,471.90 L177.55,471.62 L177.01,471.31 L176.62,470.98 L176.38,470.62 L176.30,470.26 L176.38,469.90 L176.62,469.54 L177.01,469.21 L177.55,468.90 L178.22,468.62 L179.00,468.38 L179.87,468.19 L180.82,468.05 L181.82,467.97 L182.84,467.94 L183.86,467.97 L184.86,468.05 L185.81,468.19 L186.68,468.38 L187.46,468.62 L188.13,468.90 L188.67,469.21 L189.06,469.54 L189.30,469.90Z" fill="none" stroke="#444" stroke-width="0.5" opacity="0.9" stroke-linejoin="round"/>
<path d="M190.42,470.24 L190.33,470.69 L190.05,471.13 L189.60,471.55 L188.98,471.93 L188.21,472.28 L187.30,472.57 L186.29,472.81 L185.20,472.98 L184.04,473.08 L182.86,473.12 L181.68,473.08 L180.52,472.98 L179.43,472.81 L178.42,472.57 L177.51,472.28 L176.74,471.93 L176.12,471.55 L175.67,471.13 L175.39,470.69 L175.30,470.24 L175.39,469.79 L175.67,469.35 L176.12,468.93 L176.74,468.55 L177.51,468.20 L178.42,467.91 L179.43,467.67 L180.52,467.50 L181.68,467.40 L182.86,467.36 L184.04,467.40 L185.20,467.50 L186.29,467.67 L187.30,467.91 L188.21,468.20 L188.98,468.55 L189.60,468.93 L190.05,469.35 L190.33,469.79Z" fill="none" stroke="#444" stroke-width="0.5" opacity="0.9" stroke-linejoin="round"/>
<path d="M191.46,470.22 L191.35,470.76 L191.04,471.28 L190.52,471.78 L189.82,472.24 L188.95,472.65 L187.92,473.00 L186.78,473.29 L185.53,473.49 L184.22,473.62 L182.88,473.66 L181.54,473.62 L180.23,473.49 L178.98,473.29 L177.84,473.00 L176.81,472.65 L175.94,472.24 L175.24,471.78 L174.72,471.28 L174.41,470.76 L174.30,470.22 L174.41,469.68 L174.72,469.16 L175.24,468.66 L175.94,468.20 L176.81,467.79 L177.84,467.44 L178.98,467.15 L180.23,466.95 L181.54,466.82 L182.88,466.78 L184.22,466.82 L185.53,466.95 L186.78,467.15 L187.92,467.44 L188.95,467.79 L189.82,468.20 L190.52,468.66 L191.04,469.16 L191.35,469.68Z" fill="none" stroke="#444" stroke-width="0.5" opacity="0.9" stroke-linejoin="round"/>
<path d="M192.50,470.20 L192.38,470.83 L192.03,471.44 L191.45,472.02 L190.67,472.55 L189.69,473.03 L188.54,473.44 L187.26,473.76 L185.87,474.00 L184.40,474.15 L182.90,474.20 L181.40,474.15 L179.93,474.00 L178.54,473.76 L177.26,473.44 L176.11,473.03 L175.13,472.55 L174.35,472.02 L173.77,471.44 L173.42,470.83 L173.30,470.20 L173.42,469.57 L173.77,468.96 L174.35,468.38 L175.13,467.85 L176.11,467.37 L177.26,466.96 L178.54,466.64 L179.93,466.40 L181.40,466.25 L182.90,466.20 L184.40,466.25 L185.87,466.40 L187.26,466.64 L188.54,466.96 L189.69,467.37 L190.67,467.85 L191.45,468.38 L192.03,468.96 L192.38,469.57Z" fill="none" stroke="#444" stroke-width="0.5" opacity="0.9" stroke-linejoin="round"/>
<ellipse cx="154.80" cy="476.60" rx="8.80" ry="8.40" fill="#b4b4b0"/>
<ellipse cx="154.80" cy="476.60" rx="8.80" ry="8.40" fill="none" stroke="#aaa" stroke-width="0.5"/>
<ellipse cx="154.80" cy="476.60" rx="8.10" ry="7.73" fill="none" stroke="#777" stroke-width="0.6"/>
<ellipse cx="154.80" cy="476.60" rx="7.39" ry="7.06" fill="none" stroke="#333" stroke-width="0.8"/>
<ellipse cx="154.80" cy="476.60" rx="6.69" ry="6.38" fill="none" stroke="#0a0a0a" stroke-width="1.0"/>
<ellipse cx="154.80" cy="476.60" rx="5.90" ry="5.63" fill="none" stroke="#111" stroke-width="0.9"/>
<ellipse cx="154.80" cy="476.60" rx="5.10" ry="4.87" fill="none" stroke="#444" stroke-width="0.6"/>
<ellipse cx="154.80" cy="476.60" rx="3.70" ry="3.53" fill="none" stroke="#8a8a8a" stroke-width="0.5"/>
<ellipse cx="154.80" cy="476.60" rx="2.20" ry="2.10" fill="none" stroke="#999" stroke-width="0.5"/>
<rect x="48.10" y="439.40" width="39.50" height="27.20" fill="none" stroke="#8488de" stroke-width="0.75" />
<rect x="45.40" y="467.00" width="22.40" height="22.00" fill="none" stroke="#8488de" stroke-width="0.75" />
<rect x="70.20" y="466.90" width="24.60" height="11.50" fill="none" stroke="#8488de" stroke-width="0.75" />
<rect x="149.30" y="439.80" width="39.20" height="25.20" fill="none" stroke="#8488de" stroke-width="0.75" />
<rect x="144.30" y="468.20" width="20.00" height="19.80" fill="none" stroke="#8488de" stroke-width="0.75" />
<rect x="169.40" y="465.20" width="25.30" height="12.60" fill="none" stroke="#8488de" stroke-width="0.75" />
<line x1="46" y1="466.8" x2="95" y2="466.8" stroke="#6060e0" stroke-width="1.3" stroke-dasharray="1.3,0.6" opacity="0.75"/>
<line x1="150" y1="465.6" x2="194" y2="465.6" stroke="#6868d8" stroke-width="1.0" stroke-dasharray="1.2,0.8" opacity="0.6"/>
<path d="M63.69,552.30 L63.49,552.61 L63.31,552.90 L63.17,553.18 L63.01,553.43 L62.84,553.67 L62.65,553.89 L62.48,554.11 L62.30,554.32 L62.12,554.52 L61.94,554.73 L61.72,554.90 L61.47,555.03 L61.23,555.15 L60.98,555.28 L60.72,555.38 L60.45,555.43 L60.18,555.48 L59.90,555.54 L59.61,555.58 L59.31,555.62 L59.00,555.65 L58.69,555.62 L58.38,555.57 L58.05,555.50 L57.73,555.40 L57.40,555.28 L57.16,555.04 L56.94,554.78 L56.74,554.51 L56.60,554.21 L56.50,553.89 L56.42,553.56 L56.37,553.25 L56.35,552.93 L56.35,552.61 L56.38,552.30 L56.46,552.00 L56.58,551.71 L56.71,551.45 L56.87,551.20 L57.03,550.96 L57.21,550.75 L57.42,550.56 L57.66,550.42 L57.90,550.30 L58.13,550.19 L58.35,550.08 L58.57,549.99 L58.78,549.89 L59.00,549.83 L59.22,549.78 L59.45,549.72 L59.67,549.67 L59.90,549.61 L60.14,549.57 L60.39,549.53 L60.65,549.51 L60.91,549.52 L61.19,549.54 L61.46,549.59 L61.75,549.66 L62.04,549.75 L62.34,549.86 L62.66,549.99 L62.99,550.14 L63.35,550.31 L63.59,550.58 L63.81,550.88 L63.89,551.23 L63.90,551.59 L63.89,551.95Z" fill="none" stroke="#e0404e" stroke-width="0.65" opacity="0.9" stroke-linejoin="round"/>
<path d="M66.25,552.30 L65.77,552.81 L65.39,553.27 L65.13,553.70 L64.86,554.11 L64.59,554.49 L64.32,554.85 L64.10,555.24 L63.88,555.64 L63.67,556.07 L63.45,556.53 L63.15,556.93 L62.74,557.21 L62.32,557.50 L61.90,557.80 L61.43,558.00 L60.92,558.07 L60.41,558.13 L59.90,558.18 L59.38,558.20 L58.86,558.21 L58.32,558.20 L57.80,558.08 L57.28,557.92 L56.76,557.75 L56.22,557.56 L55.65,557.37 L55.32,556.88 L55.00,556.41 L54.70,555.94 L54.52,555.41 L54.42,554.85 L54.35,554.32 L54.29,553.80 L54.26,553.29 L54.26,552.79 L54.30,552.30 L54.46,551.82 L54.68,551.38 L54.91,550.96 L55.15,550.57 L55.40,550.20 L55.65,549.85 L55.97,549.55 L56.37,549.34 L56.74,549.14 L57.09,548.95 L57.42,548.76 L57.75,548.57 L58.07,548.37 L58.44,548.28 L58.80,548.20 L59.16,548.13 L59.53,548.07 L59.90,548.01 L60.28,547.98 L60.67,547.95 L61.06,547.97 L61.45,548.03 L61.85,548.11 L62.27,548.20 L62.70,548.30 L63.16,548.42 L63.66,548.54 L64.24,548.66 L64.91,548.79 L65.70,548.95 L66.21,549.36 L66.72,549.82 L66.87,550.43 L66.85,551.08 L66.80,551.70Z" fill="none" stroke="#e0404e" stroke-width="0.65" opacity="0.9" stroke-linejoin="round"/>
<path d="M68.67,552.30 L67.88,553.00 L67.28,553.60 L66.93,554.18 L66.59,554.73 L66.27,555.27 L65.96,555.80 L65.73,556.39 L65.52,557.02 L65.30,557.70 L65.07,558.46 L64.68,559.13 L64.09,559.56 L63.49,559.99 L62.86,560.42 L62.15,560.68 L61.38,560.70 L60.63,560.70 L59.90,560.68 L59.17,560.65 L58.44,560.60 L57.69,560.56 L56.96,560.38 L56.23,560.16 L55.48,559.95 L54.69,559.74 L53.84,559.53 L53.36,558.84 L52.91,558.16 L52.48,557.50 L52.27,556.71 L52.21,555.89 L52.17,555.11 L52.17,554.37 L52.20,553.66 L52.26,552.97 L52.35,552.30 L52.62,551.66 L52.94,551.07 L53.26,550.52 L53.56,549.99 L53.85,549.48 L54.13,548.97 L54.50,548.52 L55.02,548.21 L55.50,547.90 L55.96,547.60 L56.41,547.31 L56.86,547.03 L57.31,546.75 L57.85,546.66 L58.37,546.60 L58.89,546.56 L59.40,546.53 L59.90,546.52 L60.41,546.52 L60.92,546.52 L61.44,546.55 L61.96,546.65 L62.49,546.75 L63.05,546.84 L63.66,546.93 L64.33,547.02 L65.07,547.13 L65.96,547.22 L66.99,547.33 L68.24,547.49 L69.00,548.06 L69.76,548.71 L69.89,549.62 L69.77,550.56 L69.61,551.45Z" fill="none" stroke="#e0404e" stroke-width="0.65" opacity="0.9" stroke-linejoin="round"/>
<path d="M70.88,552.30 L69.85,553.17 L69.14,553.93 L68.76,554.67 L68.42,555.40 L68.09,556.12 L67.78,556.85 L67.56,557.66 L67.33,558.54 L67.08,559.48 L66.78,560.50 L66.25,561.36 L65.43,561.88 L64.60,562.38 L63.75,562.87 L62.80,563.12 L61.80,563.07 L60.84,563.02 L59.90,562.97 L58.97,562.95 L58.02,562.94 L57.04,562.96 L56.08,562.80 L55.10,562.59 L54.08,562.38 L53.00,562.15 L51.84,561.91 L51.24,560.96 L50.70,560.02 L50.21,559.08 L50.06,557.98 L50.11,556.87 L50.18,555.84 L50.27,554.88 L50.37,553.98 L50.48,553.12 L50.59,552.30 L50.89,551.51 L51.25,550.77 L51.57,550.07 L51.87,549.38 L52.15,548.69 L52.43,547.99 L52.86,547.37 L53.53,546.95 L54.16,546.56 L54.77,546.19 L55.38,545.84 L55.98,545.52 L56.60,545.22 L57.31,545.17 L57.99,545.16 L58.64,545.16 L59.28,545.16 L59.90,545.16 L60.53,545.14 L61.17,545.11 L61.83,545.11 L62.49,545.19 L63.19,545.25 L63.93,545.31 L64.74,545.38 L65.63,545.47 L66.61,545.59 L67.77,545.70 L69.12,545.84 L70.74,546.04 L71.65,546.82 L72.57,547.69 L72.64,548.89 L72.38,550.10 L72.13,551.23Z" fill="none" stroke="#e0404e" stroke-width="0.65" opacity="0.9" stroke-linejoin="round"/>
<path d="M73.24,552.30 L72.06,553.36 L71.26,554.30 L70.87,555.24 L70.50,556.16 L70.12,557.07 L69.72,557.97 L69.43,558.97 L69.11,560.03 L68.75,561.15 L68.34,562.36 L67.64,563.35 L66.61,563.92 L65.58,564.48 L64.54,565.05 L63.41,565.38 L62.20,565.36 L61.04,565.37 L59.90,565.42 L58.75,565.49 L57.56,565.58 L56.31,565.69 L55.08,565.53 L53.85,565.27 L52.58,564.98 L51.26,564.64 L49.87,564.25 L49.24,562.96 L48.70,561.70 L48.21,560.48 L48.14,559.09 L48.28,557.72 L48.42,556.48 L48.53,555.35 L48.61,554.29 L48.66,553.28 L48.69,552.30 L48.95,551.34 L49.30,550.43 L49.62,549.55 L49.94,548.67 L50.26,547.81 L50.61,546.93 L51.18,546.19 L52.06,545.72 L52.89,545.29 L53.69,544.90 L54.47,544.55 L55.23,544.21 L55.97,543.88 L56.83,543.85 L57.63,543.84 L58.40,543.81 L59.15,543.76 L59.90,543.69 L60.66,543.61 L61.45,543.50 L62.27,543.45 L63.10,543.51 L63.97,543.58 L64.88,543.68 L65.85,543.80 L66.90,543.95 L68.05,544.15 L69.41,544.32 L70.99,544.53 L72.92,544.79 L73.97,545.74 L75.07,546.78 L75.17,548.21 L74.91,549.65 L74.70,551.00Z" fill="none" stroke="#e0404e" stroke-width="0.65" opacity="0.9" stroke-linejoin="round"/>
<path d="M72.50,573.60 L72.48,573.79 L72.40,573.97 L72.28,574.14 L72.12,574.31 L71.91,574.45 L71.68,574.57 L71.41,574.67 L71.12,574.74 L70.81,574.79 L70.50,574.80 L70.19,574.79 L69.88,574.74 L69.59,574.67 L69.32,574.57 L69.09,574.45 L68.88,574.31 L68.72,574.14 L68.60,573.97 L68.52,573.79 L68.50,573.60 L68.52,573.41 L68.60,573.23 L68.72,573.06 L68.88,572.89 L69.09,572.75 L69.32,572.63 L69.59,572.53 L69.88,572.46 L70.19,572.41 L70.50,572.40 L70.81,572.41 L71.12,572.46 L71.41,572.53 L71.68,572.63 L71.91,572.75 L72.12,572.89 L72.28,573.06 L72.40,573.23 L72.48,573.41Z" fill="none" stroke="#e0404e" stroke-width="0.6" opacity="0.9" stroke-linejoin="round"/>
<path d="M76.40,573.60 L76.35,573.97 L76.20,574.32 L75.96,574.66 L75.64,574.97 L75.23,575.25 L74.75,575.49 L74.22,575.68 L73.64,575.82 L73.03,575.90 L72.40,575.93 L71.77,575.90 L71.16,575.82 L70.58,575.68 L70.05,575.49 L69.57,575.25 L69.16,574.97 L68.84,574.66 L68.60,574.32 L68.45,573.97 L68.40,573.60 L68.45,573.23 L68.60,572.88 L68.84,572.54 L69.16,572.23 L69.57,571.95 L70.05,571.71 L70.58,571.52 L71.16,571.38 L71.77,571.30 L72.40,571.27 L73.03,571.30 L73.64,571.38 L74.22,571.52 L74.75,571.71 L75.23,571.95 L75.64,572.23 L75.96,572.54 L76.20,572.88 L76.35,573.23Z" fill="none" stroke="#e0404e" stroke-width="0.6" opacity="0.9" stroke-linejoin="round"/>
<path d="M80.30,573.60 L80.23,574.14 L80.01,574.67 L79.65,575.17 L79.15,575.64 L78.54,576.05 L77.83,576.40 L77.02,576.69 L76.15,576.90 L75.24,577.02 L74.30,577.07 L73.36,577.02 L72.45,576.90 L71.58,576.69 L70.77,576.40 L70.06,576.05 L69.45,575.64 L68.95,575.17 L68.59,574.67 L68.37,574.14 L68.30,573.60 L68.37,573.06 L68.59,572.53 L68.95,572.03 L69.45,571.56 L70.06,571.15 L70.77,570.80 L71.58,570.51 L72.45,570.30 L73.36,570.18 L74.30,570.13 L75.24,570.18 L76.15,570.30 L77.02,570.51 L77.83,570.80 L78.54,571.15 L79.15,571.56 L79.65,572.03 L80.01,572.53 L80.23,573.06Z" fill="none" stroke="#e0404e" stroke-width="0.6" opacity="0.9" stroke-linejoin="round"/>
<path d="M84.20,573.60 L84.10,574.32 L83.81,575.02 L83.33,575.69 L82.67,576.30 L81.86,576.85 L80.90,577.32 L79.83,577.70 L78.67,577.97 L77.45,578.14 L76.20,578.20 L74.95,578.14 L73.73,577.97 L72.57,577.70 L71.50,577.32 L70.54,576.85 L69.73,576.30 L69.07,575.69 L68.59,575.02 L68.30,574.32 L68.20,573.60 L68.30,572.88 L68.59,572.18 L69.07,571.51 L69.73,570.90 L70.54,570.35 L71.50,569.88 L72.57,569.50 L73.73,569.23 L74.95,569.06 L76.20,569.00 L77.45,569.06 L78.67,569.23 L79.83,569.50 L80.90,569.88 L81.86,570.35 L82.67,570.90 L83.33,571.51 L83.81,572.18 L84.10,572.88Z" fill="none" stroke="#e0404e" stroke-width="0.6" opacity="0.9" stroke-linejoin="round"/>
<ellipse cx="53.70" cy="577.50" rx="10.00" ry="9.20" fill="#f2aab2"/>
<ellipse cx="53.70" cy="577.50" rx="10.00" ry="9.20" fill="none" stroke="#f0a8b0" stroke-width="0.6"/>
<ellipse cx="53.70" cy="577.44" rx="9.20" ry="8.46" fill="none" stroke="#c03848" stroke-width="0.9"/>
<ellipse cx="53.70" cy="577.36" rx="8.20" ry="7.54" fill="none" stroke="#d84050" stroke-width="0.8"/>
<ellipse cx="53.70" cy="577.28" rx="7.20" ry="6.62" fill="none" stroke="#e05868" stroke-width="0.7"/>
<ellipse cx="53.70" cy="577.18" rx="6.00" ry="5.52" fill="none" stroke="#e03848" stroke-width="0.9"/>
<ellipse cx="53.70" cy="577.08" rx="4.80" ry="4.42" fill="none" stroke="#e03040" stroke-width="0.9"/>
<ellipse cx="53.70" cy="576.99" rx="3.60" ry="3.31" fill="none" stroke="#e84858" stroke-width="0.8"/>
<ellipse cx="53.70" cy="576.88" rx="2.20" ry="2.02" fill="none" stroke="#f07080" stroke-width="0.8"/>
<rect x="45.40" y="540.30" width="42.50" height="25.70" fill="none" stroke="#8488de" stroke-width="0.75" />
<rect x="41.60" y="567.20" width="24.20" height="21.00" fill="none" stroke="#8488de" stroke-width="0.75" />
<rect x="67.50" y="567.20" width="23.10" height="14.00" fill="none" stroke="#8488de" stroke-width="0.75" />
<path d="M164.16,550.20 L164.21,550.57 L164.13,550.93 L164.03,551.28 L163.81,551.59 L163.56,551.86 L163.28,552.09 L162.94,552.26 L162.62,552.40 L162.31,552.51 L162.01,552.59 L161.71,552.64 L161.44,552.69 L161.18,552.73 L160.94,552.77 L160.70,552.82 L160.47,552.86 L160.24,552.90 L160.00,552.93 L159.76,552.95 L159.51,552.95 L159.26,552.94 L159.01,552.92 L158.75,552.89 L158.48,552.83 L158.21,552.76 L157.94,552.66 L157.69,552.51 L157.43,552.35 L157.22,552.14 L157.05,551.90 L156.89,551.65 L156.77,551.38 L156.68,551.09 L156.62,550.80 L156.59,550.50 L156.60,550.20 L156.64,549.91 L156.75,549.63 L156.90,549.37 L157.06,549.13 L157.24,548.91 L157.44,548.72 L157.69,548.59 L157.94,548.47 L158.17,548.37 L158.40,548.29 L158.61,548.22 L158.82,548.15 L159.02,548.09 L159.21,548.03 L159.41,548.00 L159.60,547.96 L159.80,547.92 L160.00,547.89 L160.20,547.86 L160.42,547.84 L160.63,547.84 L160.86,547.84 L161.09,547.86 L161.33,547.90 L161.58,547.95 L161.83,548.02 L162.08,548.12 L162.34,548.24 L162.60,548.38 L162.89,548.53 L163.19,548.71 L163.45,548.95 L163.69,549.21 L163.93,549.51 L164.08,549.84Z" fill="none" stroke="#e0404e" stroke-width="0.7" opacity="0.95" stroke-linejoin="round"/>
<path d="M165.11,550.20 L165.17,550.65 L165.06,551.09 L164.91,551.52 L164.62,551.88 L164.27,552.19 L163.93,552.47 L163.49,552.65 L163.10,552.80 L162.74,552.94 L162.39,553.05 L162.04,553.11 L161.72,553.18 L161.42,553.25 L161.13,553.31 L160.85,553.37 L160.57,553.42 L160.28,553.46 L160.00,553.48 L159.71,553.47 L159.43,553.45 L159.14,553.41 L158.85,553.35 L158.56,553.29 L158.26,553.21 L157.95,553.13 L157.64,553.01 L157.35,552.85 L157.04,552.68 L156.79,552.45 L156.58,552.17 L156.39,551.89 L156.24,551.57 L156.14,551.23 L156.08,550.89 L156.06,550.54 L156.08,550.20 L156.14,549.86 L156.31,549.55 L156.50,549.26 L156.71,549.00 L156.93,548.77 L157.16,548.56 L157.46,548.42 L157.73,548.29 L157.98,548.18 L158.22,548.08 L158.45,547.99 L158.67,547.90 L158.89,547.81 L159.10,547.73 L159.32,547.68 L159.55,547.63 L159.77,547.60 L160.00,547.57 L160.23,547.56 L160.47,547.56 L160.70,547.57 L160.95,547.60 L161.20,547.63 L161.46,547.68 L161.73,547.73 L162.01,547.81 L162.30,547.90 L162.61,548.01 L162.95,548.14 L163.32,548.28 L163.74,548.45 L164.10,548.71 L164.44,549.01 L164.79,549.36 L164.99,549.76Z" fill="none" stroke="#e0404e" stroke-width="0.7" opacity="0.95" stroke-linejoin="round"/>
<path d="M166.47,550.20 L166.55,550.77 L166.40,551.33 L166.22,551.87 L165.86,552.33 L165.43,552.73 L165.02,553.10 L164.48,553.34 L164.00,553.55 L163.56,553.76 L163.10,553.90 L162.65,553.99 L162.23,554.07 L161.83,554.13 L161.45,554.19 L161.08,554.23 L160.71,554.25 L160.36,554.26 L160.00,554.26 L159.65,554.21 L159.30,554.15 L158.96,554.08 L158.61,554.01 L158.25,553.95 L157.88,553.88 L157.48,553.80 L157.08,553.68 L156.69,553.51 L156.28,553.32 L155.97,553.02 L155.73,552.67 L155.51,552.29 L155.38,551.88 L155.31,551.46 L155.29,551.03 L155.31,550.61 L155.37,550.20 L155.46,549.80 L155.69,549.44 L155.93,549.11 L156.18,548.81 L156.41,548.53 L156.65,548.27 L157.00,548.10 L157.31,547.94 L157.60,547.80 L157.87,547.66 L158.14,547.54 L158.40,547.42 L158.66,547.32 L158.92,547.23 L159.19,547.20 L159.47,547.17 L159.73,547.16 L160.00,547.16 L160.27,547.17 L160.53,547.19 L160.80,547.21 L161.08,547.23 L161.37,547.26 L161.68,547.29 L162.02,547.32 L162.37,547.37 L162.75,547.45 L163.16,547.55 L163.61,547.67 L164.12,547.82 L164.70,548.01 L165.17,548.32 L165.62,548.70 L166.09,549.13 L166.34,549.65Z" fill="none" stroke="#e0404e" stroke-width="0.7" opacity="0.95" stroke-linejoin="round"/>
<path d="M168.01,550.20 L168.17,550.92 L168.04,551.62 L167.91,552.32 L167.50,552.93 L167.02,553.47 L166.54,553.97 L165.84,554.29 L165.22,554.58 L164.63,554.83 L164.02,554.99 L163.40,555.06 L162.84,555.11 L162.31,555.14 L161.81,555.16 L161.33,555.16 L160.87,555.16 L160.43,555.15 L160.00,555.13 L159.57,555.07 L159.15,555.01 L158.72,554.96 L158.29,554.91 L157.82,554.86 L157.34,554.81 L156.81,554.75 L156.30,554.61 L155.81,554.39 L155.31,554.14 L154.96,553.73 L154.73,553.24 L154.53,552.75 L154.44,552.22 L154.44,551.69 L154.46,551.18 L154.52,550.68 L154.59,550.20 L154.68,549.73 L154.93,549.31 L155.18,548.91 L155.43,548.54 L155.67,548.18 L155.92,547.84 L156.33,547.63 L156.71,547.44 L157.07,547.27 L157.42,547.12 L157.75,546.99 L158.08,546.88 L158.41,546.78 L158.73,546.71 L159.06,546.70 L159.38,546.70 L159.69,546.70 L160.00,546.71 L160.31,546.71 L160.61,546.71 L160.93,546.71 L161.27,546.71 L161.63,546.71 L162.02,546.70 L162.44,546.71 L162.89,546.76 L163.36,546.84 L163.87,546.96 L164.42,547.10 L165.05,547.28 L165.77,547.51 L166.34,547.89 L166.88,548.36 L167.49,548.88 L167.81,549.52Z" fill="none" stroke="#e0404e" stroke-width="0.7" opacity="0.95" stroke-linejoin="round"/>
<path d="M169.91,550.20 L170.24,551.10 L170.17,551.99 L170.09,552.90 L169.62,553.70 L169.01,554.40 L168.37,555.03 L167.44,555.41 L166.58,555.72 L165.79,555.99 L164.97,556.13 L164.17,556.15 L163.44,556.16 L162.78,556.16 L162.17,556.16 L161.60,556.16 L161.05,556.17 L160.52,556.19 L160.00,556.22 L159.48,556.18 L158.95,556.15 L158.41,556.12 L157.86,556.08 L157.28,556.03 L156.68,555.95 L156.04,555.85 L155.44,555.64 L154.88,555.32 L154.31,554.97 L153.95,554.43 L153.75,553.81 L153.56,553.20 L153.50,552.57 L153.51,551.94 L153.53,551.34 L153.56,550.76 L153.60,550.20 L153.64,549.64 L153.90,549.12 L154.17,548.64 L154.44,548.18 L154.72,547.74 L155.02,547.33 L155.56,547.09 L156.06,546.89 L156.53,546.73 L156.97,546.58 L157.38,546.46 L157.78,546.36 L158.16,546.26 L158.54,546.18 L158.92,546.17 L159.29,546.16 L159.65,546.15 L160.00,546.12 L160.36,546.10 L160.73,546.07 L161.12,546.04 L161.52,546.01 L161.96,546.00 L162.43,545.99 L162.94,546.01 L163.45,546.09 L163.99,546.21 L164.57,546.36 L165.22,546.54 L165.96,546.76 L166.83,547.01 L167.53,547.46 L168.24,547.99 L169.06,548.60 L169.55,549.36Z" fill="none" stroke="#e0404e" stroke-width="0.7" opacity="0.95" stroke-linejoin="round"/>
<path d="M172.31,550.20 L172.79,551.32 L172.71,552.44 L172.58,553.57 L171.93,554.54 L171.08,555.37 L170.22,556.10 L168.99,556.49 L167.89,556.82 L166.90,557.10 L165.90,557.24 L164.94,557.25 L164.08,557.27 L163.31,557.30 L162.60,557.34 L161.93,557.40 L161.28,557.47 L160.64,557.54 L160.00,557.61 L159.36,557.56 L158.71,557.51 L158.06,557.44 L157.40,557.35 L156.72,557.23 L156.03,557.08 L155.30,556.91 L154.62,556.61 L153.99,556.21 L153.35,555.78 L152.94,555.14 L152.70,554.41 L152.46,553.72 L152.36,552.98 L152.33,552.25 L152.31,551.56 L152.30,550.87 L152.30,550.20 L152.33,549.53 L152.66,548.91 L153.02,548.33 L153.38,547.79 L153.75,547.28 L154.15,546.82 L154.84,546.59 L155.46,546.39 L156.02,546.22 L156.54,546.07 L157.01,545.93 L157.46,545.80 L157.88,545.66 L158.30,545.54 L158.74,545.49 L159.16,545.45 L159.58,545.40 L160.00,545.35 L160.43,545.31 L160.87,545.28 L161.32,545.27 L161.80,545.26 L162.30,545.28 L162.82,545.31 L163.39,545.35 L163.97,545.47 L164.58,545.62 L165.25,545.79 L166.02,545.99 L166.93,546.20 L168.04,546.45 L168.97,546.94 L169.93,547.54 L171.06,548.25 L171.78,549.17Z" fill="none" stroke="#e0404e" stroke-width="0.7" opacity="0.95" stroke-linejoin="round"/>
<path d="M174.91,550.20 L175.41,551.55 L175.20,552.88 L174.95,554.21 L174.07,555.32 L173.00,556.26 L171.95,557.10 L170.49,557.55 L169.23,557.94 L168.11,558.31 L166.98,558.52 L165.87,558.59 L164.89,558.67 L163.99,558.76 L163.15,558.85 L162.34,558.94 L161.55,559.01 L160.78,559.06 L160.00,559.10 L159.23,558.98 L158.48,558.84 L157.73,558.68 L156.98,558.50 L156.21,558.32 L155.42,558.13 L154.59,557.93 L153.78,557.61 L153.03,557.17 L152.22,556.73 L151.69,556.02 L151.36,555.19 L151.03,554.38 L150.88,553.52 L150.85,552.65 L150.85,551.81 L150.87,551.00 L150.92,550.20 L151.01,549.41 L151.48,548.70 L151.95,548.04 L152.42,547.44 L152.88,546.88 L153.35,546.36 L154.15,546.10 L154.85,545.88 L155.47,545.67 L156.03,545.47 L156.55,545.27 L157.04,545.07 L157.52,544.88 L158.00,544.69 L158.51,544.64 L159.01,544.59 L159.51,544.55 L160.00,544.53 L160.50,544.53 L161.00,544.54 L161.51,544.57 L162.04,544.60 L162.59,544.64 L163.18,544.69 L163.83,544.73 L164.50,544.83 L165.22,544.98 L166.05,545.12 L167.01,545.29 L168.17,545.48 L169.60,545.72 L170.79,546.27 L172.02,546.98 L173.45,547.83 L174.31,548.95Z" fill="none" stroke="#e0404e" stroke-width="0.7" opacity="0.95" stroke-linejoin="round"/>
<path d="M177.24,550.20 L177.74,551.75 L177.45,553.28 L177.17,554.80 L176.19,556.09 L175.03,557.21 L173.91,558.23 L172.30,558.81 L170.90,559.35 L169.65,559.85 L168.35,560.15 L167.04,560.25 L165.86,560.35 L164.77,560.43 L163.74,560.48 L162.76,560.50 L161.82,560.50 L160.90,560.47 L160.00,560.43 L159.12,560.22 L158.27,560.02 L157.42,559.83 L156.56,559.64 L155.67,559.48 L154.73,559.32 L153.72,559.17 L152.73,558.87 L151.78,558.42 L150.78,557.94 L150.13,557.11 L149.75,556.12 L149.40,555.14 L149.30,554.09 L149.36,553.05 L149.45,552.06 L149.57,551.11 L149.71,550.20 L149.87,549.31 L150.43,548.51 L150.98,547.78 L151.49,547.10 L151.96,546.45 L152.43,545.83 L153.30,545.51 L154.05,545.21 L154.73,544.93 L155.36,544.67 L155.96,544.42 L156.53,544.19 L157.10,543.97 L157.67,543.79 L158.28,543.78 L158.87,543.78 L159.44,543.80 L160.00,543.82 L160.55,543.86 L161.11,543.89 L161.68,543.93 L162.27,543.95 L162.91,543.97 L163.60,543.97 L164.37,543.95 L165.19,544.02 L166.08,544.12 L167.09,544.25 L168.27,544.41 L169.67,544.62 L171.38,544.89 L172.76,545.55 L174.15,546.41 L175.75,547.42 L176.65,548.74Z" fill="none" stroke="#e0404e" stroke-width="0.7" opacity="0.95" stroke-linejoin="round"/>
<path d="M179.47,550.20 L180.14,551.96 L179.95,553.72 L179.80,555.50 L178.83,557.05 L177.62,558.42 L176.42,559.68 L174.57,560.40 L172.92,561.04 L171.42,561.62 L169.83,561.91 L168.23,561.95 L166.79,561.96 L165.48,561.95 L164.26,561.90 L163.12,561.85 L162.04,561.79 L161.01,561.74 L160.00,561.70 L159.01,561.51 L158.04,561.34 L157.05,561.20 L156.04,561.09 L154.97,560.98 L153.84,560.87 L152.62,560.74 L151.44,560.40 L150.35,559.85 L149.22,559.25 L148.54,558.22 L148.22,557.00 L147.93,555.83 L147.93,554.59 L148.10,553.39 L148.26,552.27 L148.42,551.21 L148.56,550.20 L148.69,549.21 L149.26,548.31 L149.79,547.47 L150.28,546.66 L150.74,545.88 L151.22,545.13 L152.21,544.74 L153.08,544.40 L153.89,544.09 L154.64,543.81 L155.36,543.57 L156.05,543.36 L156.72,543.17 L157.39,543.02 L158.09,543.06 L158.75,543.09 L159.38,543.13 L160.00,543.16 L160.62,543.17 L161.24,543.16 L161.89,543.14 L162.58,543.11 L163.33,543.06 L164.15,543.01 L165.07,542.96 L166.03,543.01 L167.06,543.14 L168.22,543.31 L169.54,543.52 L171.09,543.79 L172.99,544.14 L174.48,544.93 L175.98,545.92 L177.75,547.07 L178.76,548.56Z" fill="none" stroke="#e0404e" stroke-width="0.7" opacity="0.95" stroke-linejoin="round"/>
<path d="M182.26,550.20 L183.24,552.23 L183.19,554.29 L183.15,556.40 L182.07,558.23 L180.64,559.82 L179.17,561.27 L176.90,562.03 L174.87,562.68 L173.02,563.22 L171.11,563.45 L169.24,563.39 L167.58,563.33 L166.09,563.26 L164.74,563.22 L163.48,563.19 L162.29,563.20 L161.14,563.23 L160.00,563.30 L158.86,563.18 L157.73,563.08 L156.58,562.98 L155.39,562.87 L154.16,562.73 L152.86,562.56 L151.49,562.35 L150.21,561.87 L149.05,561.15 L147.87,560.38 L147.22,559.15 L146.93,557.74 L146.67,556.42 L146.68,555.05 L146.84,553.73 L146.96,552.50 L147.05,551.33 L147.10,550.20 L147.12,549.07 L147.69,548.03 L148.25,547.05 L148.78,546.12 L149.31,545.22 L149.89,544.37 L151.09,543.96 L152.16,543.62 L153.13,543.33 L154.03,543.09 L154.87,542.87 L155.66,542.67 L156.40,542.49 L157.13,542.32 L157.89,542.34 L158.61,542.34 L159.31,542.32 L160.00,542.29 L160.70,542.24 L161.41,542.18 L162.17,542.11 L162.97,542.05 L163.82,542.00 L164.76,541.96 L165.78,541.94 L166.83,542.06 L167.94,542.26 L169.17,542.50 L170.59,542.78 L172.28,543.11 L174.38,543.49 L176.06,544.36 L177.81,545.43 L179.93,546.69 L181.25,548.34Z" fill="none" stroke="#e0404e" stroke-width="0.7" opacity="0.95" stroke-linejoin="round"/>
<path d="M179.00,573.60 L178.96,573.80 L178.85,574.00 L178.67,574.19 L178.43,574.36 L178.12,574.52 L177.76,574.65 L177.36,574.76 L176.93,574.84 L176.47,574.88 L176.00,574.90 L175.53,574.88 L175.07,574.84 L174.64,574.76 L174.24,574.65 L173.88,574.52 L173.57,574.36 L173.33,574.19 L173.15,574.00 L173.04,573.80 L173.00,573.60 L173.04,573.40 L173.15,573.20 L173.33,573.01 L173.57,572.84 L173.88,572.68 L174.24,572.55 L174.64,572.44 L175.07,572.36 L175.53,572.32 L176.00,572.30 L176.47,572.32 L176.93,572.36 L177.36,572.44 L177.76,572.55 L178.12,572.68 L178.43,572.84 L178.67,573.01 L178.85,573.20 L178.96,573.40Z" fill="none" stroke="#e0404e" stroke-width="0.6" opacity="0.9" stroke-linejoin="round"/>
<path d="M182.73,573.60 L182.67,574.01 L182.47,574.40 L182.14,574.78 L181.69,575.13 L181.13,575.44 L180.48,575.70 L179.75,575.92 L178.96,576.07 L178.12,576.17 L177.27,576.20 L176.41,576.17 L175.58,576.07 L174.78,575.92 L174.05,575.70 L173.40,575.44 L172.84,575.13 L172.40,574.78 L172.07,574.40 L171.87,574.01 L171.80,573.60 L171.87,573.19 L172.07,572.80 L172.40,572.42 L172.84,572.07 L173.40,571.76 L174.05,571.50 L174.78,571.28 L175.58,571.13 L176.41,571.03 L177.27,571.00 L178.12,571.03 L178.96,571.13 L179.75,571.28 L180.48,571.50 L181.13,571.76 L181.69,572.07 L182.14,572.42 L182.47,572.80 L182.67,573.19Z" fill="none" stroke="#e0404e" stroke-width="0.6" opacity="0.9" stroke-linejoin="round"/>
<path d="M186.47,573.60 L186.37,574.21 L186.08,574.81 L185.60,575.37 L184.95,575.89 L184.14,576.36 L183.20,576.76 L182.13,577.07 L180.98,577.31 L179.77,577.45 L178.53,577.50 L177.29,577.45 L176.08,577.31 L174.93,577.07 L173.87,576.76 L172.92,576.36 L172.12,575.89 L171.46,575.37 L170.99,574.81 L170.70,574.21 L170.60,573.60 L170.70,572.99 L170.99,572.39 L171.46,571.83 L172.12,571.31 L172.92,570.84 L173.87,570.44 L174.93,570.13 L176.08,569.89 L177.29,569.75 L178.53,569.70 L179.77,569.75 L180.98,569.89 L182.13,570.13 L183.20,570.44 L184.14,570.84 L184.95,571.31 L185.60,571.83 L186.08,572.39 L186.37,572.99Z" fill="none" stroke="#e0404e" stroke-width="0.6" opacity="0.9" stroke-linejoin="round"/>
<path d="M190.20,573.60 L190.07,574.41 L189.69,575.21 L189.07,575.96 L188.21,576.66 L187.15,577.28 L185.91,577.81 L184.52,578.23 L183.01,578.55 L181.43,578.74 L179.80,578.80 L178.17,578.74 L176.59,578.55 L175.08,578.23 L173.69,577.81 L172.45,577.28 L171.39,576.66 L170.53,575.96 L169.91,575.21 L169.53,574.41 L169.40,573.60 L169.53,572.79 L169.91,571.99 L170.53,571.24 L171.39,570.54 L172.45,569.92 L173.69,569.39 L175.08,568.97 L176.59,568.65 L178.17,568.46 L179.80,568.40 L181.43,568.46 L183.01,568.65 L184.52,568.97 L185.91,569.39 L187.15,569.92 L188.21,570.54 L189.07,571.24 L189.69,571.99 L190.07,572.79Z" fill="none" stroke="#e0404e" stroke-width="0.6" opacity="0.9" stroke-linejoin="round"/>
<ellipse cx="153.40" cy="577.50" rx="10.30" ry="9.70" fill="#f0a0a8"/>
<ellipse cx="153.40" cy="577.50" rx="10.30" ry="9.70" fill="none" stroke="#ee98a2" stroke-width="0.6"/>
<ellipse cx="153.40" cy="577.50" rx="9.48" ry="8.92" fill="none" stroke="#e03a4a" stroke-width="1.0"/>
<ellipse cx="153.40" cy="577.50" rx="8.55" ry="8.05" fill="none" stroke="#e0303f" stroke-width="1.0"/>
<ellipse cx="153.40" cy="577.50" rx="7.52" ry="7.08" fill="none" stroke="#e84858" stroke-width="0.8"/>
<ellipse cx="153.40" cy="577.50" rx="6.39" ry="6.01" fill="none" stroke="#e03444" stroke-width="0.9"/>
<ellipse cx="153.40" cy="577.50" rx="5.15" ry="4.85" fill="none" stroke="#e85060" stroke-width="0.8"/>
<ellipse cx="153.40" cy="577.50" rx="3.81" ry="3.59" fill="none" stroke="#e85868" stroke-width="0.8"/>
<ellipse cx="153.40" cy="577.50" rx="2.27" ry="2.13" fill="none" stroke="#f08890" stroke-width="0.8"/>
<rect x="144.50" y="541.00" width="39.20" height="22.90" fill="none" stroke="#8488de" stroke-width="0.75" />
<rect x="141.90" y="566.70" width="22.90" height="22.60" fill="none" stroke="#8488de" stroke-width="0.75" />
<rect x="168.10" y="566.10" width="23.40" height="14.00" fill="none" stroke="#8488de" stroke-width="0.75" />
<line x1="47.5" y1="566.4" x2="64" y2="566.4" stroke="#6060e0" stroke-width="1.1" stroke-dasharray="1.2,0.7" opacity="0.6"/>
<line x1="146" y1="565.4" x2="166" y2="565.4" stroke="#6060e0" stroke-width="1.1" stroke-dasharray="1.2,0.7" opacity="0.6"/>
<text x="68.00" y="440.20" font-size="4.2" text-anchor="middle" font-weight="normal" fill="#222"  stroke="#222" stroke-width="0.12">47.2</text>
<text x="40.60" y="489.50" font-size="4.2" text-anchor="middle" font-weight="normal" fill="#222"  stroke="#222" stroke-width="0.12">46.5</text>
<text x="83.40" y="483.00" font-size="4.2" text-anchor="middle" font-weight="normal" fill="#222"  stroke="#222" stroke-width="0.12">5.09</text>
<text x="168.80" y="436.50" font-size="4.2" text-anchor="middle" font-weight="normal" fill="#222"  stroke="#222" stroke-width="0.12">53.8</text>
<text x="140.00" y="489.50" font-size="4.2" text-anchor="middle" font-weight="normal" fill="#222"  stroke="#222" stroke-width="0.12">34.9</text>
<text x="181.30" y="483.00" font-size="4.2" text-anchor="middle" font-weight="normal" fill="#222"  stroke="#222" stroke-width="0.12">8.73</text>
<text x="66.60" y="540.20" font-size="4.2" text-anchor="middle" font-weight="normal" fill="#222"  stroke="#222" stroke-width="0.12">14.1</text>
<text x="37.50" y="589.20" font-size="4.2" text-anchor="middle" font-weight="normal" fill="#222"  stroke="#222" stroke-width="0.12">79.5</text>
<text x="78.20" y="583.70" font-size="4.2" text-anchor="middle" font-weight="normal" fill="#222"  stroke="#222" stroke-width="0.12">5.93</text>
<text x="164.40" y="537.00" font-size="4.2" text-anchor="middle" font-weight="normal" fill="#222"  stroke="#222" stroke-width="0.12">31.8</text>
<text x="138.10" y="589.20" font-size="4.2" text-anchor="middle" font-weight="normal" fill="#222"  stroke="#222" stroke-width="0.12">68.1</text>
<text x="178.90" y="583.40" font-size="4.2" text-anchor="middle" font-weight="normal" fill="#222"  stroke="#222" stroke-width="0.12">8.76</text>
<line x1="30.50" y1="620.80" x2="213.80" y2="620.80" stroke="#111" stroke-width="1.8" />
<text x="77.50" y="632.50" font-size="10.4" text-anchor="start" font-weight="normal" fill="#222"  textLength="88.7" lengthAdjust="spacingAndGlyphs" stroke="#222" stroke-width="0.12">Propidium iodide (PI)</text>
<rect x="225.40" y="420.60" width="52.60" height="52.50" fill="none" stroke="#333" stroke-width="1.3" />
<rect x="238.20" y="428.20" width="33.60" height="16.40" fill="none" stroke="#333" stroke-width="1.3" />
<rect x="228.50" y="449.20" width="18.10" height="15.80" fill="none" stroke="#333" stroke-width="1.3" />
<rect x="254.60" y="448.90" width="20.00" height="14.10" fill="none" stroke="#333" stroke-width="1.3" />
<text x="254.80" y="440.60" font-size="9" text-anchor="middle" font-weight="bold" fill="#222"  stroke="#222" stroke-width="0.12">S</text>
<text x="237.60" y="460.60" font-size="9" text-anchor="middle" font-weight="bold" fill="#222"  stroke="#222" stroke-width="0.12">G1</text>
<text x="264.60" y="459.50" font-size="9" text-anchor="middle" font-weight="bold" fill="#222"  stroke="#222" stroke-width="0.12">G2</text>
<text x="253.80" y="481.80" font-size="9" text-anchor="middle" font-weight="bold" fill="#222"  stroke="#222" stroke-width="0.12">PI</text>
<text x="0" y="0" font-size="9" text-anchor="middle" dominant-baseline="central" font-weight="bold" fill="#222"  stroke="#222" stroke-width="0.12" transform="translate(221.30,439.30) rotate(-90)">EdU</text>
<rect x="225.00" y="537.50" width="5.30" height="4.80" fill="#111" stroke="none" stroke-width="1" />
<rect x="225.00" y="549.50" width="5.30" height="5.20" fill="#e0102a" stroke="none" stroke-width="1" />
<text x="233.50" y="542.80" font-size="7.6" text-anchor="start" font-weight="normal" fill="#222"  stroke="#222" stroke-width="0.22">Ctr.-1h</text>
<text x="233.50" y="554.80" font-size="7.6" text-anchor="start" font-weight="normal" fill="#222"  stroke="#222" stroke-width="0.22">F1P1-1h</text>
<text x="306.00" y="407.60" font-size="10.5" text-anchor="start" font-weight="bold" fill="#111"  stroke="#111" stroke-width="0.12">F</text>
<line x1="347.20" y1="426.60" x2="347.20" y2="502.90" stroke="#111" stroke-width="1.6" />
<line x1="346.60" y1="502.30" x2="461.20" y2="502.30" stroke="#111" stroke-width="1.5" />
<line x1="344.60" y1="502.30" x2="347.20" y2="502.30" stroke="#111" stroke-width="1.0" />
<text x="344.80" y="504.60" font-size="6.4" text-anchor="end" font-weight="bold" fill="#222"  stroke="#222" stroke-width="0.12">0</text>
<line x1="344.60" y1="487.22" x2="347.20" y2="487.22" stroke="#111" stroke-width="1.0" />
<text x="344.80" y="489.52" font-size="6.4" text-anchor="end" font-weight="bold" fill="#222"  textLength="6.2" lengthAdjust="spacingAndGlyphs" stroke="#222" stroke-width="0.12">10</text>
<line x1="344.60" y1="472.14" x2="347.20" y2="472.14" stroke="#111" stroke-width="1.0" />
<text x="344.80" y="474.44" font-size="6.4" text-anchor="end" font-weight="bold" fill="#222"  textLength="6.2" lengthAdjust="spacingAndGlyphs" stroke="#222" stroke-width="0.12">20</text>
<line x1="344.60" y1="457.06" x2="347.20" y2="457.06" stroke="#111" stroke-width="1.0" />
<text x="344.80" y="459.36" font-size="6.4" text-anchor="end" font-weight="bold" fill="#222"  textLength="6.2" lengthAdjust="spacingAndGlyphs" stroke="#222" stroke-width="0.12">30</text>
<line x1="344.60" y1="441.98" x2="347.20" y2="441.98" stroke="#111" stroke-width="1.0" />
<text x="344.80" y="444.28" font-size="6.4" text-anchor="end" font-weight="bold" fill="#222"  textLength="6.2" lengthAdjust="spacingAndGlyphs" stroke="#222" stroke-width="0.12">40</text>
<line x1="344.60" y1="426.90" x2="347.20" y2="426.90" stroke="#111" stroke-width="1.0" />
<text x="344.80" y="429.20" font-size="6.4" text-anchor="end" font-weight="bold" fill="#222"  textLength="6.2" lengthAdjust="spacingAndGlyphs" stroke="#222" stroke-width="0.12">50</text>
<rect x="356.60" y="437.61" width="38.20" height="64.69" fill="#808080" stroke="#111" stroke-width="1.0" />
<rect x="413.10" y="480.51" width="38.40" height="21.79" fill="url(#chk)" stroke="#111" stroke-width="1.0" />
<line x1="375.70" y1="437.61" x2="375.70" y2="433.84" stroke="#111" stroke-width="0.9" />
<line x1="366.00" y1="433.84" x2="385.40" y2="433.84" stroke="#111" stroke-width="0.9" />
<line x1="432.30" y1="480.51" x2="432.30" y2="480.13" stroke="#111" stroke-width="0.9" />
<line x1="422.60" y1="480.13" x2="442.00" y2="480.13" stroke="#111" stroke-width="0.9" />
<line x1="375.70" y1="502.30" x2="375.70" y2="504.90" stroke="#111" stroke-width="1.0" />
<line x1="432.30" y1="502.30" x2="432.30" y2="504.90" stroke="#111" stroke-width="1.0" />
<line x1="375.80" y1="429.40" x2="429.60" y2="429.40" stroke="#111" stroke-width="1.0" />
<text x="403.20" y="432.30" font-size="10" text-anchor="middle" font-weight="bold" fill="#111"  textLength="12.9" lengthAdjust="spacingAndGlyphs" stroke="#111" stroke-width="0.12">***</text>
<text x="0" y="0" font-size="6.8" font-weight="bold" font-style="italic" fill="#111" text-anchor="end" transform="translate(377.80,511.00) rotate(-70)">Ctr</text>
<text x="0" y="0" font-size="6.8" font-weight="bold" font-style="italic" fill="#111" text-anchor="end" transform="translate(434.50,510.80) rotate(-70)">F1P1</text>
<text x="389.80" y="415.20" font-size="9.1" text-anchor="start" font-weight="normal" fill="#111"  stroke="#111" stroke-width="0.12">CD4<tspan font-size="4.37" dy="-3.00">+</tspan></text>
<text x="0" y="0" font-size="8.0" text-anchor="middle" dominant-baseline="central" font-weight="normal" fill="#2a2a2a"  textLength="59.5" lengthAdjust="spacingAndGlyphs" stroke="#2a2a2a" stroke-width="0.12" transform="translate(322.40,464.35) rotate(-90)">EdU incorporation</text>
<text x="0" y="0" font-size="8.0" text-anchor="middle" dominant-baseline="central" font-weight="normal" fill="#2a2a2a"  textLength="38.3" lengthAdjust="spacingAndGlyphs" stroke="#2a2a2a" stroke-width="0.12" transform="translate(331.20,463.20) rotate(-90)">(% of cells)</text>
<line x1="347.70" y1="545.18" x2="347.70" y2="621.80" stroke="#111" stroke-width="1.6" />
<line x1="347.10" y1="621.20" x2="461.20" y2="621.20" stroke="#111" stroke-width="1.5" />
<line x1="345.10" y1="621.20" x2="347.70" y2="621.20" stroke="#111" stroke-width="1.0" />
<text x="345.30" y="623.50" font-size="6.4" text-anchor="end" font-weight="bold" fill="#222"  stroke="#222" stroke-width="0.12">0</text>
<line x1="345.10" y1="608.58" x2="347.70" y2="608.58" stroke="#111" stroke-width="1.0" />
<text x="345.30" y="610.88" font-size="6.4" text-anchor="end" font-weight="bold" fill="#222"  textLength="6.2" lengthAdjust="spacingAndGlyphs" stroke="#222" stroke-width="0.12">10</text>
<line x1="345.10" y1="595.96" x2="347.70" y2="595.96" stroke="#111" stroke-width="1.0" />
<text x="345.30" y="598.26" font-size="6.4" text-anchor="end" font-weight="bold" fill="#222"  textLength="6.2" lengthAdjust="spacingAndGlyphs" stroke="#222" stroke-width="0.12">20</text>
<line x1="345.10" y1="583.34" x2="347.70" y2="583.34" stroke="#111" stroke-width="1.0" />
<text x="345.30" y="585.64" font-size="6.4" text-anchor="end" font-weight="bold" fill="#222"  textLength="6.2" lengthAdjust="spacingAndGlyphs" stroke="#222" stroke-width="0.12">30</text>
<line x1="345.10" y1="570.72" x2="347.70" y2="570.72" stroke="#111" stroke-width="1.0" />
<text x="345.30" y="573.02" font-size="6.4" text-anchor="end" font-weight="bold" fill="#222"  textLength="6.2" lengthAdjust="spacingAndGlyphs" stroke="#222" stroke-width="0.12">40</text>
<line x1="345.10" y1="558.10" x2="347.70" y2="558.10" stroke="#111" stroke-width="1.0" />
<text x="345.30" y="560.40" font-size="6.4" text-anchor="end" font-weight="bold" fill="#222"  textLength="6.2" lengthAdjust="spacingAndGlyphs" stroke="#222" stroke-width="0.12">50</text>
<line x1="345.10" y1="545.48" x2="347.70" y2="545.48" stroke="#111" stroke-width="1.0" />
<text x="345.30" y="547.78" font-size="6.4" text-anchor="end" font-weight="bold" fill="#222"  textLength="6.2" lengthAdjust="spacingAndGlyphs" stroke="#222" stroke-width="0.12">60</text>
<rect x="356.60" y="555.20" width="38.20" height="66.00" fill="#808080" stroke="#111" stroke-width="1.0" />
<rect x="413.10" y="578.92" width="38.40" height="42.28" fill="url(#chk)" stroke="#111" stroke-width="1.0" />
<line x1="375.70" y1="555.20" x2="375.70" y2="552.29" stroke="#111" stroke-width="0.9" />
<line x1="366.00" y1="552.29" x2="385.40" y2="552.29" stroke="#111" stroke-width="0.9" />
<line x1="432.30" y1="578.92" x2="432.30" y2="578.54" stroke="#111" stroke-width="0.9" />
<line x1="422.60" y1="578.54" x2="442.00" y2="578.54" stroke="#111" stroke-width="0.9" />
<line x1="375.70" y1="621.20" x2="375.70" y2="623.80" stroke="#111" stroke-width="1.0" />
<line x1="432.30" y1="621.20" x2="432.30" y2="623.80" stroke="#111" stroke-width="1.0" />
<line x1="375.80" y1="548.10" x2="429.60" y2="548.10" stroke="#111" stroke-width="1.0" />
<text x="403.20" y="550.90" font-size="10" text-anchor="middle" font-weight="bold" fill="#111"  textLength="12.9" lengthAdjust="spacingAndGlyphs" stroke="#111" stroke-width="0.12">***</text>
<text x="0" y="0" font-size="6.8" font-weight="bold" font-style="italic" fill="#111" text-anchor="end" transform="translate(377.80,629.00) rotate(-70)">Ctr</text>
<text x="0" y="0" font-size="6.8" font-weight="bold" font-style="italic" fill="#111" text-anchor="end" transform="translate(434.40,629.30) rotate(-70)">F1P1</text>
<text x="390.20" y="537.70" font-size="9.1" text-anchor="start" font-weight="normal" fill="#111"  stroke="#111" stroke-width="0.12">CD8<tspan font-size="4.37" dy="-3.00">+</tspan></text>
<text x="0" y="0" font-size="8.0" text-anchor="middle" dominant-baseline="central" font-weight="normal" fill="#2a2a2a"  textLength="60" lengthAdjust="spacingAndGlyphs" stroke="#2a2a2a" stroke-width="0.12" transform="translate(322.80,584.65) rotate(-90)">EdU incorporation</text>
<text x="0" y="0" font-size="8.0" text-anchor="middle" dominant-baseline="central" font-weight="normal" fill="#2a2a2a"  textLength="39" lengthAdjust="spacingAndGlyphs" stroke="#2a2a2a" stroke-width="0.12" transform="translate(331.40,584.75) rotate(-90)">(% of cells)</text>
</svg>
</body></html>
